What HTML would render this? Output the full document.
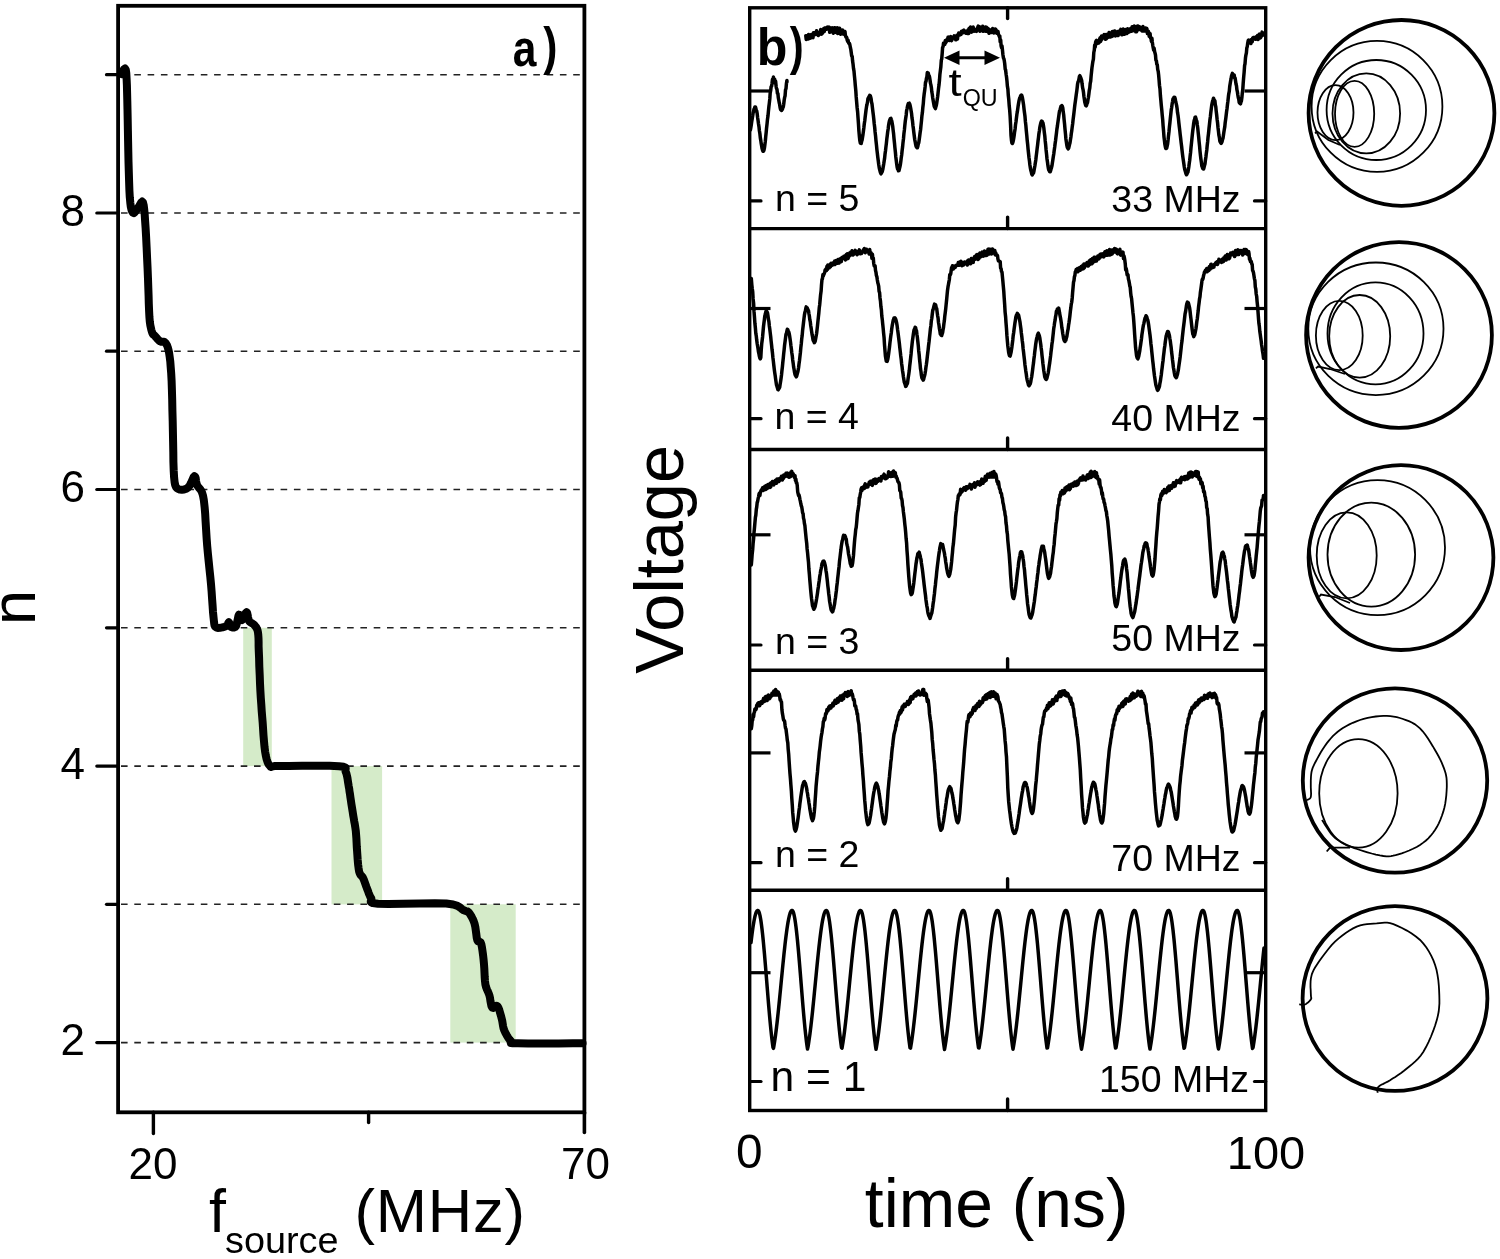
<!DOCTYPE html>
<html><head><meta charset="utf-8"><style>
html,body{margin:0;padding:0;background:#fff;width:1500px;height:1259px;overflow:hidden;font-family:"Liberation Sans",sans-serif;}
svg{display:block;will-change:transform}
</style></head><body>
<svg width="1500" height="1259" viewBox="0 0 1500 1259"><rect x="243.2" y="627.8" width="28.6" height="138.3" fill="#d5ebc9"/>
<rect x="331.5" y="766.1" width="50.6" height="138.3" fill="#d5ebc9"/>
<rect x="450.3" y="904.3" width="65.4" height="138.3" fill="#d5ebc9"/>
<line x1="120" y1="1042.6" x2="582.6" y2="1042.6" stroke="#222" stroke-width="1.6" stroke-dasharray="6.6 6.7" stroke-dashoffset="-1"/>
<line x1="120" y1="904.3" x2="582.6" y2="904.3" stroke="#222" stroke-width="1.6" stroke-dasharray="6.6 6.7" stroke-dashoffset="-1"/>
<line x1="120" y1="766.1" x2="582.6" y2="766.1" stroke="#222" stroke-width="1.6" stroke-dasharray="6.6 6.7" stroke-dashoffset="-1"/>
<line x1="120" y1="627.8" x2="582.6" y2="627.8" stroke="#222" stroke-width="1.6" stroke-dasharray="6.6 6.7" stroke-dashoffset="-1"/>
<line x1="120" y1="489.5" x2="582.6" y2="489.5" stroke="#222" stroke-width="1.6" stroke-dasharray="6.6 6.7" stroke-dashoffset="-1"/>
<line x1="120" y1="351.2" x2="582.6" y2="351.2" stroke="#222" stroke-width="1.6" stroke-dasharray="6.6 6.7" stroke-dashoffset="-1"/>
<line x1="120" y1="213" x2="582.6" y2="213" stroke="#222" stroke-width="1.6" stroke-dasharray="6.6 6.7" stroke-dashoffset="-1"/>
<line x1="120" y1="74.7" x2="582.6" y2="74.7" stroke="#222" stroke-width="1.6" stroke-dasharray="6.6 6.7" stroke-dashoffset="-1"/>
<path d="M121.4,74.1 L122,73 L123,71 L124,69.2 L125,68.5 L125.8,69.8 L126.3,73.4 L126.6,78.7 L126.9,85.3 L127.1,92.8 L127.3,100.8 L127.5,109.8 L127.7,120 L127.9,130.8 L128.1,141.5 L128.3,151.7 L128.5,161.7 L128.8,171.8 L129.1,181.6 L129.4,190.3 L129.8,197.4 L130.3,202.7 L130.8,206.7 L131.4,209.5 L132.1,211.4 L132.9,212.7 L133.8,213.1 L134.8,212.3 L135.9,210.9 L137,209.3 L138,208 L139,206.5 L140.1,204.4 L141.2,202.5 L142.2,201.6 L143,202.5 L143.7,205.2 L144.2,209.3 L144.7,214.5 L145.1,220.8 L145.6,228 L146.1,236.7 L146.6,247.1 L147.1,258.2 L147.6,269 L148,278.8 L148.3,287.6 L148.6,296.1 L148.8,303.9 L149.1,311 L149.4,316.9 L149.8,321.6 L150.3,325.1 L150.9,327.9 L151.4,330.1 L152,332 L152.5,333.5 L153.1,334.3 L153.6,334.8 L154.3,335.3 L155,336 L155.9,337.1 L156.9,338.3 L158,339.5 L159.1,340.6 L160.2,341.4 L161.2,341.8 L162.3,341.8 L163.4,341.7 L164.4,341.9 L165.3,342.7 L166.2,343.9 L167,345.3 L167.7,347.1 L168.4,349.6 L169.1,352.9 L169.7,357 L170.3,361.7 L170.7,367.1 L171.2,373.5 L171.6,380.8 L171.9,389.6 L172.2,399.8 L172.4,410.6 L172.7,421.5 L172.9,431.7 L173.1,441.7 L173.3,452 L173.4,461.8 L173.7,470.5 L174.1,477.4 L174.6,482.1 L175.2,485.1 L175.9,486.9 L176.8,488 L178,488.9 L179.7,489.6 L181.8,489.8 L184,489.5 L186.2,488.7 L188.1,487.6 L189.7,485.6 L191.1,482.8 L192.4,479.8 L193.5,477.3 L194.5,476.2 L195.2,476.7 L195.7,478.3 L196,480.6 L196.4,483 L197,485 L197.9,486.5 L199,487.8 L200.1,489.1 L201.2,490.7 L202.1,492.7 L202.8,494.9 L203.3,497.2 L203.8,499.9 L204.2,503.4 L204.7,508 L205.2,514.1 L205.6,521.6 L206.1,529.7 L206.6,538 L207.2,546 L207.9,553.7 L208.7,561.5 L209.5,569.3 L210.3,576.9 L211,584.2 L211.6,591.5 L212.1,598.9 L212.6,605.9 L213,612.1 L213.5,617.2 L213.9,620.9 L214.2,623.5 L214.5,625.2 L215.1,626.5 L216.1,627.4 L217.8,627.9 L220,627.8 L222.4,627.4 L224.6,626.7 L226.3,626.1 L227.3,625.4 L227.9,624.4 L228.2,623.3 L228.4,622.6 L228.8,622.3 L229.2,622.8 L229.6,623.8 L229.9,625.1 L230.4,626.3 L231,627 L231.9,627.3 L232.9,627.5 L234,627.4 L235.1,627 L236,626 L236.7,624.1 L237.3,621.4 L237.9,618.5 L238.4,616.1 L239,614.7 L239.6,614.9 L240.1,616.3 L240.7,618 L241.3,619.5 L242,620 L242.9,619 L243.8,617 L244.8,614.8 L245.8,612.9 L246.6,612.2 L247.2,613 L247.6,614.8 L248,617 L248.5,619.3 L249.1,621 L250,622 L251,622.7 L252.1,623.3 L253.2,624 L254.2,624.9 L255.1,626 L256,627.1 L256.8,628.5 L257.5,630.2 L258,632.5 L258.3,635.2 L258.5,638.3 L258.6,641.9 L258.6,646.2 L258.8,651.5 L259.1,658.2 L259.3,666.3 L259.7,674.9 L260,683.4 L260.4,691.2 L260.8,698.1 L261.3,704.6 L261.7,710.9 L262.2,717 L262.7,723 L263.1,729.2 L263.5,735.4 L264,741.3 L264.5,746.8 L265.1,751.6 L265.8,755.6 L266.6,759 L267.5,761.9 L268.6,764.2 L269.9,765.9 L270.7,766.8 L271,766.9 L271.8,766.6 L274.2,766.1 L279.4,765.9 L288.9,765.9 L302.1,765.8 L316.5,765.7 L329.6,765.8 L338.9,766.2 L343.7,766.8 L345.6,767.7 L345.7,768.7 L345.4,770 L345.6,771.6 L346.4,773.6 L347,775.9 L347.5,778.4 L347.9,781.1 L348.3,783.7 L348.7,786.2 L349.2,788.8 L349.5,791.4 L350,794.2 L350.4,797.2 L350.9,800.5 L351.4,804 L352,807.7 L352.6,811.3 L353.1,814.8 L353.7,818.1 L354.2,821.2 L354.8,824.3 L355.3,827.5 L355.8,831 L356.1,834.8 L356.4,838.8 L356.6,842.9 L356.8,847.1 L357.1,851.2 L357.4,855.5 L357.7,860 L358.1,864.4 L358.6,868.3 L359.1,871.5 L359.8,873.6 L360.6,875 L361.5,875.9 L362.4,876.8 L363.2,878.2 L364,880.1 L364.8,882.3 L365.6,884.6 L366.4,886.9 L367.2,889 L368,891 L368.7,893.1 L369.5,895 L370.3,896.8 L371.3,898.4 L371.5,899.8 L370.8,901.1 L370.8,902.2 L372.7,903.1 L378,903.8 L388.5,904 L403.3,903.7 L419.6,903.4 L434.8,903.2 L446.2,903.5 L453.2,904.5 L457.5,905.9 L460.1,907.5 L461.9,909.1 L463.8,910.3 L465.7,911 L466.8,911.3 L467.6,911.5 L468.3,912 L469.2,913 L470.3,914.6 L471.5,916.5 L472.6,918.7 L473.7,921.2 L474.6,923.8 L475.3,926.9 L475.8,930.5 L476.3,934.1 L476.7,937.5 L477.3,940 L478,941.3 L478.9,941.7 L479.7,941.8 L480.6,942.4 L481.3,944 L481.9,947 L482.5,951 L483.1,955.4 L483.6,960 L484,964.3 L484.3,968.5 L484.5,972.8 L484.7,977.1 L485,981.1 L485.4,984.5 L486.1,987.2 L486.9,989.4 L487.8,991.3 L488.6,993.2 L489.4,995.3 L490,997.9 L490.4,1000.7 L490.9,1003.5 L491.4,1005.9 L492.1,1007.5 L493,1007.9 L494.1,1007.3 L495.3,1006.3 L496.5,1005.7 L497.5,1006.1 L498.4,1007.7 L499.3,1010 L500.1,1012.8 L500.9,1015.6 L501.6,1018.3 L502.2,1020.7 L502.6,1023.2 L503,1025.7 L503.5,1028.1 L504.3,1030.4 L505.4,1032.8 L506.7,1035.2 L508.1,1037.6 L509.6,1039.6 L511,1041.2 L511.4,1042.2 L510.9,1042.8 L510.9,1043 L512.7,1043.2 L517.8,1043.3 L528.1,1043.4 L542.7,1043.5 L558.6,1043.4 L572.9,1043.3 L582.6,1043.3" fill="none" stroke="#000" stroke-width="8" stroke-linejoin="round" stroke-linecap="round"/>
<rect x="118.1" y="5.8" width="466.3" height="1106.5" fill="none" stroke="#000" stroke-width="3.8"/>
<line x1="96.8" y1="1042.6" x2="118.1" y2="1042.6" stroke="#000" stroke-width="3.2" stroke-linecap="round"/>
<line x1="106.5" y1="904.3" x2="118.1" y2="904.3" stroke="#000" stroke-width="3.2" stroke-linecap="round"/>
<line x1="96.8" y1="766.1" x2="118.1" y2="766.1" stroke="#000" stroke-width="3.2" stroke-linecap="round"/>
<line x1="106.5" y1="627.8" x2="118.1" y2="627.8" stroke="#000" stroke-width="3.2" stroke-linecap="round"/>
<line x1="96.8" y1="489.5" x2="118.1" y2="489.5" stroke="#000" stroke-width="3.2" stroke-linecap="round"/>
<line x1="106.5" y1="351.2" x2="118.1" y2="351.2" stroke="#000" stroke-width="3.2" stroke-linecap="round"/>
<line x1="96.8" y1="213" x2="118.1" y2="213" stroke="#000" stroke-width="3.2" stroke-linecap="round"/>
<line x1="106.5" y1="74.7" x2="118.1" y2="74.7" stroke="#000" stroke-width="3.2" stroke-linecap="round"/>
<line x1="153.4" y1="1112.3" x2="153.4" y2="1133.5" stroke="#000" stroke-width="3.4" stroke-linecap="round"/>
<line x1="368.6" y1="1112.3" x2="368.6" y2="1122.5" stroke="#000" stroke-width="3.4" stroke-linecap="round"/>
<line x1="584.4" y1="1112.3" x2="584.4" y2="1132.5" stroke="#000" stroke-width="3.6" stroke-linecap="round"/>
<text x="85" y="1055.2" font-family="Liberation Sans, sans-serif" font-size="44" text-anchor="end">2</text>
<text x="85" y="778.7" font-family="Liberation Sans, sans-serif" font-size="44" text-anchor="end">4</text>
<text x="85" y="502.1" font-family="Liberation Sans, sans-serif" font-size="44" text-anchor="end">6</text>
<text x="85" y="225.6" font-family="Liberation Sans, sans-serif" font-size="44" text-anchor="end">8</text>
<text x="153" y="1178.8" font-family="Liberation Sans, sans-serif" font-size="44" text-anchor="middle">20</text>
<text x="585.5" y="1178.8" font-family="Liberation Sans, sans-serif" font-size="44" text-anchor="middle">70</text>
<text transform="translate(35.3,607.5) rotate(-90)" font-family="Liberation Sans, sans-serif" font-size="63" text-anchor="middle">n</text>
<text x="209" y="1232.2" font-family="Liberation Sans, sans-serif" font-size="61">f</text>
<text x="225" y="1253.4" font-family="Liberation Sans, sans-serif" font-size="37.8">source</text>
<text x="354.5" y="1231.6" font-family="Liberation Sans, sans-serif" font-size="61.5" letter-spacing="0.8">(MHz)</text>
<text transform="translate(512.8,65.5) scale(0.833,1)" font-family="Liberation Sans, sans-serif" font-size="51.1" font-weight="bold">a</text>
<text transform="translate(543.3,63.8) scale(0.815,1)" font-family="Liberation Sans, sans-serif" font-size="52.2" font-weight="bold">)</text>
<path d="M750.4,130 L750.9,127.2 L751.3,124.7 L751.8,121.1 L752.2,118.8 L752.7,115.8 L753.1,112.9 L753.6,111.4 L754,109 L754.5,108.4 L754.9,106.9 L755.4,106.9 L755.8,108 L756.3,110.6 L756.7,110.9 L757.2,113.8 L757.6,117.4 L758.1,120.7 L758.5,123.7 L759,126.9 L759.4,130.8 L759.9,133.7 L760.3,137.6 L760.8,140.6 L761.2,143.4 L761.7,146.3 L762.1,148.6 L762.6,150.4 L763,151.3 L763.5,151.1 L763.9,150.4 L764.4,148.2 L764.8,145.3 L765.3,141.4 L765.7,136.8 L766.2,132.1 L766.6,127.7 L767.1,123.4 L767.5,119.2 L768,115.8 L768.4,111.3 L768.9,106.5 L769.3,103.4 L769.8,98.9 L770.2,92.9 L770.7,90.5 L771.1,86.8 L771.6,86.3 L772,83.5 L772.5,79.2 L772.9,83.1 L773.4,77.1 L773.8,79.3 L774.3,82.2 L774.7,79.3 L775.2,82.6 L775.6,81.2 L776.1,86.2 L776.5,88.5 L777,89.4 L777.4,93.3 L777.9,93.5 L778.3,97.7 L778.8,100.1 L779.2,102.5 L779.7,104.7 L780.1,107.6 L780.6,109.6 L781,109.5 L781.5,110.5 L781.9,108.9 L782.4,109.3 L782.8,107.8 L783.3,106.7 L783.7,104.2 L784.2,100 L784.6,97.6 L785.1,95.7 L785.5,89.8 L786,88.6 L786.4,83.8 L786.9,80.4 L787,81.8" fill="none" stroke="#000" stroke-width="3.5" stroke-linejoin="round" stroke-linecap="round"/>
<path d="M805.8,35.7 L806.2,39.4 L806.7,35.7 L807.2,36.1 L807.6,36.7 L808.1,39.1 L808.5,34.6 L809,36.4 L809.4,36.8 L809.9,38.4 L810.3,37.9 L810.8,38 L811.2,34.5 L811.7,35 L812.1,34.5 L812.6,37.3 L813,37.6 L813.5,32.8 L813.9,32.7 L814.4,32.9 L814.8,32.7 L815.3,34 L815.7,34.4 L816.2,32.4 L816.6,30.7 L817.1,32.9 L817.5,32.5 L818,33.4 L818.4,35.6 L818.9,33.8 L819.3,32.6 L819.8,33.1 L820.2,33.2 L820.7,29.4 L821.1,34.2 L821.6,33.4 L822,33.8 L822.5,33.1 L822.9,30.6 L823.4,30.5 L823.8,28.5 L824.3,31.6 L824.7,28 L825.2,27.9 L825.6,28.7 L826.1,28.3 L826.5,29.3 L827,27.5 L827.4,27.1 L827.9,28 L828.3,27.6 L828.8,29.2 L829.2,27.1 L829.7,32.3 L830.1,30.7 L830.6,27.9 L831,28.5 L831.5,29.1 L831.9,29.2 L832.4,27.8 L832.8,32.3 L833.3,33.2 L833.7,30 L834.2,30.1 L834.6,27.7 L835.1,27.9 L835.5,29.4 L836,29 L836.4,32.5 L836.9,28.5 L837.3,27.8 L837.8,33.5 L838.2,31 L838.7,28.8 L839.1,31.3 L839.6,28.3 L840,31.4 L840.5,34.2 L840.9,33.6 L841.4,32.8 L841.8,30.3 L842.3,31.1 L842.7,30.1 L843.2,33.9 L843.6,32.6 L844.1,34.3 L844.5,31.9 L845,31.6 L845.4,35.4 L845.9,37 L846.3,36.9 L846.8,37.9 L847.2,40.1 L847.7,41.4 L848.1,40.2 L848.6,43 L849,43.6 L849.5,43.5 L849.9,45 L850.4,47.7 L850.8,49.3 L851.3,53.1 L851.7,56.1 L852.2,56.3 L852.6,61.1 L853.1,64.6 L853.5,68.4 L854,71.1 L854.4,75.7 L854.9,80.6 L855.3,85.5 L855.8,90.7 L856.2,96.9 L856.7,102.6 L857.1,107.5 L857.6,111.7 L858,117.4 L858.5,124.4 L858.9,130.8 L859.4,136.6 L859.8,140.4 L860.3,142.8 L860.7,143.3 L861.2,143.5 L861.6,141.6 L862.1,140 L862.5,137.4 L863,134.4 L863.4,131.2 L863.9,127.4 L864.3,123.7 L864.8,120.5 L865.2,116.7 L865.7,112.8 L866.1,109.5 L866.6,106.2 L867,104.5 L867.5,102.1 L867.9,98.9 L868.4,97.9 L868.8,97.3 L869.3,96.3 L869.7,95.3 L870.2,95.5 L870.6,96.8 L871.1,98.6 L871.5,102 L872,104 L872.4,107.5 L872.9,111.7 L873.3,114.8 L873.8,119.2 L874.2,123.5 L874.7,127.5 L875.1,132 L875.6,136.4 L876,140.8 L876.5,145.4 L876.9,149.6 L877.4,153.8 L877.8,157.2 L878.3,161.1 L878.7,164.3 L879.2,167.5 L879.6,169.3 L880.1,171.2 L880.5,172.7 L881,173.9 L881.4,172.9 L881.9,172.2 L882.3,171.4 L882.8,169.4 L883.2,166.9 L883.7,164.1 L884.1,161.4 L884.6,158.3 L885,154.3 L885.5,150.7 L885.9,147.1 L886.4,143.1 L886.8,139.1 L887.3,135.3 L887.7,131.8 L888.2,128.8 L888.6,125.2 L889.1,122.4 L889.5,120.7 L890,119.4 L890.4,118.5 L890.9,118.3 L891.3,119.6 L891.8,121 L892.2,123.3 L892.7,126.3 L893.1,129.9 L893.6,133.8 L894,138.5 L894.5,143.2 L894.9,147.7 L895.4,152.3 L895.8,156.9 L896.3,160.8 L896.7,164 L897.2,167.4 L897.6,169 L898.1,169.7 L898.5,170.8 L899,170.5 L899.4,168.8 L899.9,166.8 L900.3,164.9 L900.8,161.6 L901.2,158 L901.7,154.7 L902.1,150.8 L902.6,146.8 L903,142.6 L903.5,138.5 L903.9,133.8 L904.4,129.9 L904.8,125.6 L905.3,121 L905.7,118.2 L906.2,114.9 L906.6,110.6 L907.1,108.6 L907.5,106.2 L908,104.5 L908.4,103.5 L908.9,103.4 L909.3,103.2 L909.8,104.2 L910.2,105.8 L910.7,108.3 L911.1,110.8 L911.6,113.8 L912,117.9 L912.5,121 L912.9,125.2 L913.4,128.8 L913.8,132.3 L914.3,136.2 L914.7,139.3 L915.2,141.8 L915.6,144.2 L916.1,146.5 L916.5,147 L917,147.7 L917.4,147.8 L917.9,146 L918.3,144 L918.8,142.6 L919.2,139.7 L919.7,136.1 L920.1,132.7 L920.6,129.5 L921,125.4 L921.5,120.6 L921.9,116.1 L922.4,112.6 L922.8,107.8 L923.3,103.6 L923.7,98.2 L924.2,93.7 L924.6,91.1 L925.1,86.9 L925.5,82.3 L926,81.4 L926.4,78.5 L926.9,76.8 L927.3,72.6 L927.8,75 L928.2,72.9 L928.7,75.3 L929.1,75.6 L929.6,77.3 L930,79.8 L930.5,83.4 L930.9,84.9 L931.4,87.7 L931.8,91.8 L932.3,94.5 L932.7,97.7 L933.2,100.6 L933.6,103 L934.1,105.8 L934.5,106.9 L935,107.7 L935.4,108.6 L935.9,106.6 L936.3,105.4 L936.8,102.6 L937.2,99.8 L937.7,96.2 L938.1,92.5 L938.6,87.9 L939,85.1 L939.5,80 L939.9,74.4 L940.4,70.4 L940.8,67.3 L941.3,60.3 L941.7,59 L942.2,53.4 L942.6,47.4 L943.1,46.6 L943.5,43.2 L944,43 L944.4,43.2 L944.9,44.3 L945.3,40.5 L945.8,42.6 L946.2,41.7 L946.7,41.1 L947.1,39.6 L947.6,39.1 L948,37.4 L948.5,37.6 L948.9,37.1 L949.4,40.6 L949.8,37.9 L950.3,37.2 L950.7,36.7 L951.2,40.6 L951.6,40.7 L952.1,39.5 L952.5,37.2 L953,36.9 L953.4,37 L953.9,37.8 L954.3,35.9 L954.8,37.3 L955.2,36.2 L955.7,39.8 L956.1,39.7 L956.6,37.1 L957,35.2 L957.5,39 L957.9,35.1 L958.4,35.1 L958.8,32.9 L959.3,34.8 L959.7,35 L960.2,34.9 L960.6,33 L961.1,34.4 L961.5,31.3 L962,32.5 L962.4,31.3 L962.9,32.8 L963.3,30.5 L963.8,30.1 L964.2,31.5 L964.7,30.8 L965.1,32.7 L965.6,32.1 L966,33.2 L966.5,32.5 L966.9,32.6 L967.4,33.4 L967.8,30.2 L968.3,29.7 L968.7,33.5 L969.2,28.2 L969.6,31.6 L970.1,30.9 L970.5,27 L971,31.8 L971.4,32.1 L971.9,30.3 L972.3,30.9 L972.8,31.3 L973.2,27 L973.7,29.3 L974.1,29.1 L974.6,31.1 L975,30.9 L975.5,31 L975.9,29.5 L976.4,31.4 L976.8,30.1 L977.3,30.1 L977.7,27.3 L978.2,26.1 L978.6,26.7 L979.1,28.2 L979.5,26.6 L980,31.2 L980.4,29.5 L980.9,29.9 L981.3,30 L981.8,30.4 L982.2,29.2 L982.7,26.3 L983.1,31.3 L983.6,31 L984,29.6 L984.5,29.8 L984.9,30.6 L985.4,27 L985.8,31.3 L986.3,28.4 L986.7,27.4 L987.2,28.6 L987.6,31.5 L988.1,28.4 L988.5,31.8 L989,33.3 L989.4,30.4 L989.9,29.9 L990.3,30.5 L990.8,31.9 L991.2,32.5 L991.7,31.7 L992.1,31.9 L992.6,28.6 L993,29.1 L993.5,29.9 L993.9,32.9 L994.4,30.4 L994.8,32.1 L995.3,28.9 L995.7,29.3 L996.2,30.7 L996.6,33.2 L997.1,33.4 L997.5,33.5 L998,31.5 L998.4,34.2 L998.9,35.3 L999.3,36.6 L999.8,36.1 L1000.2,41.8 L1000.7,40 L1001.1,45.9 L1001.6,47.8 L1002,45.9 L1002.5,50.4 L1002.9,54.5 L1003.4,57.8 L1003.8,58.5 L1004.3,60.7 L1004.7,63.5 L1005.2,69.1 L1005.6,69.9 L1006.1,74.3 L1006.5,76.7 L1007,81.4 L1007.4,86.3 L1007.9,89.1 L1008.3,95.3 L1008.8,99.8 L1009.2,105.5 L1009.7,110.4 L1010.1,115.8 L1010.6,125.5 L1011,135.3 L1011.5,140.5 L1011.9,142.9 L1012.4,143.4 L1012.8,142.7 L1013.3,140.6 L1013.7,138.5 L1014.2,135.3 L1014.6,131.9 L1015.1,129 L1015.5,124.8 L1016,121.8 L1016.4,118.3 L1016.9,114.2 L1017.3,111.9 L1017.8,108.5 L1018.2,105.6 L1018.7,102.5 L1019.1,100.4 L1019.6,98.3 L1020,97.4 L1020.5,96.2 L1020.9,95.4 L1021.4,95.1 L1021.8,95.5 L1022.3,97.2 L1022.7,99.3 L1023.2,102.5 L1023.6,105.1 L1024.1,109.7 L1024.5,112.8 L1025,116.6 L1025.4,121.5 L1025.9,125.9 L1026.3,130.7 L1026.8,135.7 L1027.2,140.3 L1027.7,144.8 L1028.1,149.3 L1028.6,154 L1029,157.7 L1029.5,161.2 L1029.9,165 L1030.4,168.1 L1030.8,170.3 L1031.3,172 L1031.7,174 L1032.2,174.9 L1032.6,174.1 L1033.1,173.3 L1033.5,173 L1034,170.8 L1034.4,168.4 L1034.9,165.7 L1035.3,163.1 L1035.8,159.9 L1036.2,156.4 L1036.7,152.4 L1037.1,148.9 L1037.6,145 L1038,141.3 L1038.5,137.4 L1038.9,133.8 L1039.4,130.7 L1039.8,127.7 L1040.3,125.1 L1040.7,123.4 L1041.2,121.9 L1041.6,121.1 L1042.1,121.3 L1042.5,122.1 L1043,123 L1043.4,125.2 L1043.9,128.6 L1044.3,132.2 L1044.8,136 L1045.2,140.7 L1045.7,145.3 L1046.1,150 L1046.6,154.6 L1047,159 L1047.5,162.2 L1047.9,165.4 L1048.4,168.5 L1048.8,170 L1049.3,170.8 L1049.7,171.6 L1050.2,171.8 L1050.6,170.7 L1051.1,168.8 L1051.5,167.6 L1052,165.5 L1052.4,162.8 L1052.9,159.6 L1053.3,156.8 L1053.8,153.8 L1054.2,150.4 L1054.7,147 L1055.1,143.7 L1055.6,140.2 L1056,136.7 L1056.5,132.7 L1056.9,129.1 L1057.4,126.1 L1057.8,122.9 L1058.3,119.6 L1058.7,116.7 L1059.2,113.1 L1059.6,110.7 L1060.1,109.7 L1060.5,107.9 L1061,106.3 L1061.4,105.9 L1061.9,105.6 L1062.3,106.2 L1062.8,107.9 L1063.2,111.6 L1063.7,115 L1064.1,119.7 L1064.6,124.4 L1065,129.2 L1065.5,134.2 L1065.9,138.9 L1066.4,142.2 L1066.8,145.1 L1067.3,147.5 L1067.7,147.9 L1068.2,148.9 L1068.6,148.3 L1069.1,146.3 L1069.5,144.5 L1070,142.7 L1070.4,140.1 L1070.9,137 L1071.3,133.5 L1071.8,130.4 L1072.2,127.1 L1072.7,123.5 L1073.1,119.6 L1073.6,115.7 L1074,112.4 L1074.5,107.9 L1074.9,104.5 L1075.4,101 L1075.8,98.1 L1076.3,94.3 L1076.7,91.6 L1077.2,87.5 L1077.6,83.8 L1078.1,81.7 L1078.5,81.4 L1079,78.7 L1079.4,76.5 L1079.9,75.7 L1080.3,76.9 L1080.8,77.9 L1081.2,79.1 L1081.7,80.6 L1082.1,84.1 L1082.6,87.7 L1083,89.3 L1083.5,92.4 L1083.9,96.3 L1084.4,99.4 L1084.8,102.3 L1085.3,104 L1085.7,105.4 L1086.2,105.8 L1086.6,105.1 L1087.1,103.2 L1087.5,102.8 L1088,99.4 L1088.4,97.5 L1088.9,93.7 L1089.3,90.3 L1089.8,87.9 L1090.2,83.4 L1090.7,81.1 L1091.1,76.1 L1091.6,71.3 L1092,67.4 L1092.5,64.1 L1092.9,61.3 L1093.4,59.1 L1093.8,52.5 L1094.3,50.2 L1094.7,44.9 L1095.2,47 L1095.6,42.1 L1096.1,40.9 L1096.5,40.4 L1097,41.5 L1097.4,43.6 L1097.9,43.1 L1098.3,42 L1098.8,43 L1099.2,42.3 L1099.7,38.8 L1100.1,37.8 L1100.6,41.5 L1101,40.2 L1101.5,36.1 L1101.9,39.3 L1102.4,37.5 L1102.8,37.2 L1103.3,36.8 L1103.7,35.7 L1104.2,34.5 L1104.6,35.9 L1105.1,36 L1105.5,39.2 L1106,34.4 L1106.4,38.9 L1106.9,34.4 L1107.3,35.1 L1107.8,37.5 L1108.2,37.3 L1108.7,35 L1109.1,32.6 L1109.6,34.9 L1110,34.1 L1110.5,37.1 L1110.9,32.8 L1111.4,33.7 L1111.8,36.6 L1112.3,31.5 L1112.7,33.6 L1113.2,35.8 L1113.6,35.4 L1114.1,31.1 L1114.5,31 L1115,31 L1115.4,35.9 L1115.9,32 L1116.3,34.7 L1116.8,35.5 L1117.2,32.1 L1117.7,31.7 L1118.1,35.6 L1118.6,33.5 L1119,31.3 L1119.5,33.9 L1119.9,31.5 L1120.4,31.1 L1120.8,29.4 L1121.3,33.8 L1121.7,34.6 L1122.2,32.9 L1122.6,34.6 L1123.1,29 L1123.5,30.1 L1124,31.5 L1124.4,34.2 L1124.9,34.1 L1125.3,30.6 L1125.8,29.6 L1126.2,30.6 L1126.7,30.8 L1127.1,33.4 L1127.6,28.7 L1128,32.4 L1128.5,31.8 L1128.9,32.2 L1129.4,31.8 L1129.8,30.7 L1130.3,28.8 L1130.7,28.7 L1131.2,28.8 L1131.6,31.3 L1132.1,26.8 L1132.5,27.5 L1133,30.8 L1133.4,27.6 L1133.9,26.3 L1134.3,26 L1134.8,29.2 L1135.2,27.7 L1135.7,31.7 L1136.1,31 L1136.6,31.6 L1137,27 L1137.5,25.9 L1137.9,25.9 L1138.4,28.4 L1138.8,29.7 L1139.3,28.1 L1139.7,26.8 L1140.2,27.9 L1140.6,29.3 L1141.1,29.6 L1141.5,30.2 L1142,30.9 L1142.4,29.8 L1142.9,26.5 L1143.3,31.1 L1143.8,27.8 L1144.2,29.7 L1144.7,28.7 L1145.1,31.1 L1145.6,28 L1146,28.6 L1146.5,28.9 L1146.9,28.7 L1147.4,33.5 L1147.8,32.1 L1148.3,31.2 L1148.7,32.2 L1149.2,36.3 L1149.6,34.3 L1150.1,33.6 L1150.5,37.8 L1151,38.2 L1151.4,41.4 L1151.9,38.2 L1152.3,41.9 L1152.8,45.5 L1153.2,47.6 L1153.7,50.1 L1154.1,48.3 L1154.6,51.6 L1155,52.9 L1155.5,55.2 L1155.9,60.2 L1156.4,60.8 L1156.8,64.3 L1157.3,64.8 L1157.7,69.3 L1158.2,71.3 L1158.6,74.6 L1159.1,80.3 L1159.5,85.5 L1160,89.1 L1160.4,95.5 L1160.9,100.9 L1161.3,105.5 L1161.8,110.3 L1162.2,114.8 L1162.7,119.9 L1163.1,125.8 L1163.6,131.7 L1164,137.1 L1164.5,141.1 L1164.9,144.5 L1165.4,147.1 L1165.8,148.5 L1166.3,148.6 L1166.7,148 L1167.2,145.8 L1167.6,144.1 L1168.1,139.9 L1168.5,135.7 L1169,131.5 L1169.4,127.2 L1169.9,122.8 L1170.3,118.6 L1170.8,114 L1171.2,110.1 L1171.7,107.2 L1172.1,104.1 L1172.6,101.3 L1173,98.7 L1173.5,99.1 L1173.9,97.4 L1174.4,97.2 L1174.8,97.4 L1175.3,99.3 L1175.7,101.7 L1176.2,103.7 L1176.6,105.4 L1177.1,108.5 L1177.5,112.4 L1178,115.2 L1178.4,118.4 L1178.9,123.2 L1179.3,126.7 L1179.8,130.9 L1180.2,134.6 L1180.7,138.8 L1181.1,142.4 L1181.6,146.2 L1182,150 L1182.5,154.2 L1182.9,157.4 L1183.4,160.8 L1183.8,163.5 L1184.3,167 L1184.7,169.2 L1185.2,170.9 L1185.6,172.4 L1186.1,174.1 L1186.5,174.7 L1187,174.1 L1187.4,172.8 L1187.9,172.2 L1188.3,169.9 L1188.8,167 L1189.2,163.7 L1189.7,160.3 L1190.1,156.4 L1190.6,152.2 L1191,147.7 L1191.5,142.9 L1191.9,138.9 L1192.4,134 L1192.8,130.5 L1193.3,126.7 L1193.7,123.2 L1194.2,120.3 L1194.6,119.3 L1195.1,117.2 L1195.5,117.1 L1196,118.7 L1196.4,120 L1196.9,121.5 L1197.3,125 L1197.8,128.6 L1198.2,132.7 L1198.7,137.2 L1199.1,141.7 L1199.6,146.4 L1200,151.1 L1200.5,155.8 L1200.9,159 L1201.4,162.5 L1201.8,165.8 L1202.3,167.1 L1202.7,168.4 L1203.2,169 L1203.6,169 L1204.1,167.2 L1204.5,165.5 L1205,163.7 L1205.4,160.3 L1205.9,157 L1206.3,153.4 L1206.8,149.9 L1207.2,145.5 L1207.7,141.2 L1208.1,136.7 L1208.6,132.8 L1209,128.5 L1209.5,124 L1209.9,120.1 L1210.4,116.4 L1210.8,112.5 L1211.3,108.6 L1211.7,105.4 L1212.2,102.9 L1212.6,101 L1213.1,99.5 L1213.5,98.2 L1214,99.5 L1214.4,100.2 L1214.9,100.8 L1215.3,104.6 L1215.8,106.9 L1216.2,111.1 L1216.7,115.3 L1217.1,119.2 L1217.6,123 L1218,127.5 L1218.5,131.6 L1218.9,135.2 L1219.4,137.6 L1219.8,140.8 L1220.3,142.1 L1220.7,142.7 L1221.2,143.4 L1221.6,142.7 L1222.1,141.5 L1222.5,139.6 L1223,138.2 L1223.4,135.6 L1223.9,132.1 L1224.3,129.5 L1224.8,126.6 L1225.2,122.5 L1225.7,119.1 L1226.1,115.8 L1226.6,111.5 L1227,108.8 L1227.5,104.3 L1227.9,101.3 L1228.4,96.6 L1228.8,93.6 L1229.3,91.2 L1229.7,86.6 L1230.2,83.5 L1230.6,81.1 L1231.1,78.7 L1231.5,76.1 L1232,74.5 L1232.4,73.4 L1232.9,75.5 L1233.3,74.8 L1233.8,75.4 L1234.2,75 L1234.7,78.2 L1235.1,78 L1235.6,81.3 L1236,84 L1236.5,85.9 L1236.9,89.7 L1237.4,91.8 L1237.8,94.7 L1238.3,97.7 L1238.7,98.8 L1239.2,102.4 L1239.6,102.9 L1240.1,103.4 L1240.5,103.8 L1241,101.8 L1241.4,101.1 L1241.9,97.3 L1242.3,93.2 L1242.8,89.3 L1243.2,83.2 L1243.7,76.8 L1244.1,72.6 L1244.6,65.5 L1245,63.8 L1245.5,57.7 L1245.9,55.1 L1246.4,52.8 L1246.8,48.1 L1247.3,46.4 L1247.7,43.2 L1248.2,40.5 L1248.6,40.1 L1249.1,40.3 L1249.5,42.4 L1250,41.4 L1250.4,41.7 L1250.9,43.5 L1251.3,39.5 L1251.8,39.7 L1252.2,41.7 L1252.7,38.1 L1253.1,37.7 L1253.6,39.2 L1254,37.6 L1254.5,38.6 L1254.9,37.6 L1255.4,39.3 L1255.8,39 L1256.3,36.7 L1256.7,38.7 L1257.2,37.6 L1257.6,35.5 L1258.1,39.6 L1258.5,35.5 L1259,34.7 L1259.4,34.1 L1259.9,36.9 L1260.3,37.9 L1260.8,37.2 L1261.2,34.8 L1261.7,33.8 L1262.1,32.1 L1262.6,35.4 L1263,34.7 L1263.5,33.2 L1263.9,34.7 L1264,33.8" fill="none" stroke="#000" stroke-width="3.5" stroke-linejoin="round" stroke-linecap="round"/>
<path d="M751.3,278.4 L751.8,284.6 L752.2,288.3 L752.7,291.7 L753.1,298.9 L753.6,303.2 L754,311.2 L754.5,317.6 L754.9,323.3 L755.4,328.2 L755.8,333.3 L756.3,336.2 L756.7,340.1 L757.2,343.7 L757.6,346 L758.1,349 L758.5,351.9 L759,354.2 L759.4,356.4 L759.9,358.2 L760.3,358.8 L760.8,357.6 L761.2,350.3 L761.7,343.9 L762.1,340.7 L762.6,336.7 L763,332 L763.5,326.5 L763.9,323.2 L764.4,319.5 L764.8,316 L765.3,314.3 L765.7,312.4 L766.2,310.9 L766.6,311.2 L767.1,311.9 L767.5,312.9 L768,316 L768.4,319.2 L768.9,321.7 L769.3,325.7 L769.8,329.3 L770.2,332.6 L770.7,336.8 L771.1,340.8 L771.6,345.3 L772,349.3 L772.5,353.3 L772.9,357.5 L773.4,361.6 L773.8,365.2 L774.3,369.5 L774.7,372.5 L775.2,375.8 L775.6,378.9 L776.1,382.3 L776.5,385 L777,386.4 L777.4,387.8 L777.9,389.6 L778.3,389.8 L778.8,388.8 L779.2,388.2 L779.7,387.2 L780.1,384.6 L780.6,381.5 L781,378.7 L781.5,375 L781.9,371 L782.4,366.7 L782.8,362.5 L783.3,357.9 L783.7,353.6 L784.2,349.1 L784.6,344.9 L785.1,341.3 L785.5,338.1 L786,334.3 L786.4,333.5 L786.9,331.1 L787.3,329.3 L787.8,329.7 L788.2,331.5 L788.7,331.8 L789.1,333.2 L789.6,335.8 L790,338.6 L790.5,341.9 L790.9,345.5 L791.4,349.2 L791.8,352.8 L792.3,356 L792.7,359.9 L793.2,363.4 L793.6,366.9 L794.1,369.5 L794.5,372.1 L795,374.3 L795.4,375.4 L795.9,376.1 L796.3,376.8 L796.8,375.7 L797.2,374.1 L797.7,372.3 L798.1,370.5 L798.6,367.5 L799,364 L799.5,360.5 L799.9,356.9 L800.4,352.5 L800.8,347.9 L801.3,343.5 L801.7,339.1 L802.2,335.3 L802.6,330.4 L803.1,326.2 L803.5,322.7 L804,318.4 L804.4,315.1 L804.9,312.4 L805.3,311.2 L805.8,308.5 L806.2,306.9 L806.7,308.5 L807.1,307.7 L807.6,308.7 L808,310 L808.5,310.8 L808.9,313.5 L809.4,316.2 L809.8,319.7 L810.3,321.9 L810.7,325.5 L811.2,328.4 L811.6,331.2 L812.1,334.7 L812.5,336.5 L813,339.8 L813.4,340.7 L813.9,341.5 L814.3,342.7 L814.8,342 L815.2,341.1 L815.7,338.4 L816.1,336.2 L816.6,333.5 L817,330.1 L817.5,325.6 L817.9,321.6 L818.4,316.9 L818.8,313.2 L819.3,307.4 L819.7,304.7 L820.2,299 L820.6,294.7 L821.1,291.1 L821.5,284.9 L822,279.3 L822.4,278.8 L822.9,274.6 L823.3,276 L823.8,274.4 L824.2,273.8 L824.7,272.2 L825.1,270.1 L825.6,269.6 L826,268.9 L826.5,270.6 L826.9,266.3 L827.4,269.6 L827.8,265 L828.3,265.4 L828.7,265.2 L829.2,267.9 L829.6,265.6 L830.1,264.7 L830.5,266.8 L831,263.3 L831.4,264.2 L831.9,264.3 L832.3,265.2 L832.8,265 L833.2,264.3 L833.7,262.5 L834.1,262.2 L834.6,261.2 L835,264.5 L835.5,263.4 L835.9,263.7 L836.4,260.5 L836.8,261.7 L837.3,263.3 L837.7,262.1 L838.2,259.5 L838.6,261 L839.1,263.1 L839.5,259.4 L840,258.9 L840.4,259.2 L840.9,261.1 L841.3,261.6 L841.8,257.6 L842.2,257.3 L842.7,257.5 L843.1,257.7 L843.6,258.5 L844,256.2 L844.5,256.8 L844.9,255.8 L845.4,259.9 L845.8,258.2 L846.3,254.4 L846.7,259.1 L847.2,253.8 L847.6,255.2 L848.1,258.4 L848.5,257.1 L849,256.5 L849.4,254.5 L849.9,252.8 L850.3,255.2 L850.8,251.9 L851.2,252.3 L851.7,253.2 L852.1,250.8 L852.6,252.9 L853,255.1 L853.5,254.4 L853.9,253 L854.4,253.7 L854.8,252.5 L855.3,250.4 L855.7,253.1 L856.2,251.8 L856.6,253.7 L857.1,254.7 L857.5,251.6 L858,252.4 L858.4,253.4 L858.9,251.2 L859.3,249.9 L859.8,252.9 L860.2,253.8 L860.7,253.1 L861.1,252.6 L861.6,253.4 L862,252.3 L862.5,252 L862.9,250.8 L863.4,249.8 L863.8,251.8 L864.3,248.4 L864.7,250.4 L865.2,252.7 L865.6,252.2 L866.1,251.7 L866.5,249.3 L867,250.5 L867.4,250.7 L867.9,251.8 L868.3,250.5 L868.8,252.2 L869.2,254 L869.7,249.5 L870.1,252.8 L870.6,254.2 L871,252.6 L871.5,254.3 L871.9,258.2 L872.4,254.2 L872.8,258.4 L873.3,258.1 L873.7,263.2 L874.2,265.9 L874.6,265.7 L875.1,265.9 L875.5,270.3 L876,272.4 L876.4,275.4 L876.9,276.8 L877.3,279.7 L877.8,282.7 L878.2,284 L878.7,286.4 L879.1,291.4 L879.6,292.7 L880,297.9 L880.5,301.3 L880.9,306.6 L881.4,309.9 L881.8,316.1 L882.3,319.7 L882.7,323.9 L883.2,328.6 L883.6,333.2 L884.1,337.9 L884.5,344.7 L885,350.9 L885.4,355.9 L885.9,359 L886.3,361.1 L886.8,361.3 L887.2,361.4 L887.7,359.6 L888.1,357.4 L888.6,354 L889,350.9 L889.5,347.1 L889.9,343.1 L890.4,339.1 L890.8,336 L891.3,332.7 L891.7,329.1 L892.2,325.7 L892.6,323.6 L893.1,320.8 L893.5,319.7 L894,318 L894.4,318 L894.9,317.8 L895.3,318.3 L895.8,319.5 L896.2,321 L896.7,323.2 L897.1,325.6 L897.6,329.8 L898,332.6 L898.5,336.4 L898.9,339.7 L899.4,343.8 L899.8,347.6 L900.3,351.7 L900.7,355.5 L901.2,359.2 L901.6,363.5 L902.1,367.1 L902.5,370.5 L903,373.6 L903.4,376.7 L903.9,379.7 L904.3,382.1 L904.8,383.5 L905.2,384.7 L905.7,386.4 L906.1,386.2 L906.6,384.8 L907,384.1 L907.5,383.1 L907.9,380 L908.4,376.6 L908.8,374 L909.3,370.3 L909.7,365.9 L910.2,361.7 L910.6,358.1 L911.1,353.7 L911.5,349.1 L912,344.7 L912.4,340.9 L912.9,337.5 L913.3,334.6 L913.8,331.2 L914.2,329.5 L914.7,328.9 L915.1,327.3 L915.6,327.7 L916,329.8 L916.5,330.8 L916.9,334.2 L917.4,337.6 L917.8,341.3 L918.3,345.9 L918.7,350.7 L919.2,355 L919.6,359.8 L920.1,364.3 L920.5,368.8 L921,371.8 L921.4,375.2 L921.9,377.9 L922.3,378.6 L922.8,379.4 L923.2,380.1 L923.7,379.2 L924.1,377.2 L924.6,375.7 L925,373.8 L925.5,370.7 L925.9,367.5 L926.4,364.3 L926.8,361.2 L927.3,356.8 L927.7,353.3 L928.2,349.1 L928.6,345.2 L929.1,341.3 L929.5,337.4 L930,332.9 L930.4,328.8 L930.9,325.7 L931.3,321 L931.8,318.3 L932.2,314.7 L932.7,310.7 L933.1,309.6 L933.6,307.6 L934,305.9 L934.5,304.1 L934.9,305.6 L935.4,304.5 L935.8,305.5 L936.3,308.3 L936.7,308.5 L937.2,312.6 L937.6,315.6 L938.1,318.3 L938.5,322.5 L939,325.2 L939.4,328.5 L939.9,331.1 L940.3,333.9 L940.8,334.4 L941.2,335.2 L941.7,335.5 L942.1,334 L942.6,332.7 L943,329.9 L943.5,327.4 L943.9,323.8 L944.4,320.3 L944.8,315.9 L945.3,312.3 L945.7,308.9 L946.2,303.9 L946.6,300 L947.1,294.7 L947.5,290.5 L948,286.9 L948.4,284.7 L948.9,281.9 L949.3,280 L949.8,274.5 L950.2,275 L950.7,273.9 L951.1,270.9 L951.6,267.5 L952,267.8 L952.5,265.7 L952.9,265.9 L953.4,269 L953.8,267 L954.3,266.8 L954.7,267.1 L955.2,267.4 L955.6,265.6 L956.1,265.4 L956.5,265.3 L957,265.5 L957.4,264.8 L957.9,265.1 L958.3,262.6 L958.8,264.8 L959.2,263.7 L959.7,265.2 L960.1,261.7 L960.6,262.1 L961,261.3 L961.5,265 L961.9,265.7 L962.4,264.3 L962.8,262.8 L963.3,265.1 L963.7,264.8 L964.2,263.6 L964.6,262 L965.1,262.2 L965.5,262.7 L966,262.2 L966.4,262.7 L966.9,263.6 L967.3,265 L967.8,260.4 L968.2,262.9 L968.7,260 L969.1,260.2 L969.6,263.6 L970,262.2 L970.5,263.8 L970.9,261 L971.4,258.4 L971.8,260.1 L972.3,260.9 L972.7,262.5 L973.2,262.4 L973.6,259.4 L974.1,258.7 L974.5,256.7 L975,259.4 L975.4,256.7 L975.9,256.1 L976.3,255 L976.8,254.7 L977.2,258.3 L977.7,254.9 L978.1,259.5 L978.6,254.2 L979,258.5 L979.5,253.9 L979.9,253.1 L980.4,256.9 L980.8,253.9 L981.3,256.5 L981.7,253.1 L982.2,252 L982.6,256.1 L983.1,255.5 L983.5,256.1 L984,255.2 L984.4,251.1 L984.9,254.2 L985.3,254.5 L985.8,252.8 L986.2,255.5 L986.7,251.2 L987.1,255.3 L987.6,253.7 L988,249.2 L988.5,249.1 L988.9,252.9 L989.4,253.9 L989.8,249.2 L990.3,250.6 L990.7,253.2 L991.2,249.6 L991.6,253.9 L992.1,251.6 L992.5,249 L993,251 L993.4,252.4 L993.9,251.7 L994.3,253.4 L994.8,250.4 L995.2,254.8 L995.7,252.6 L996.1,254.8 L996.6,255.5 L997,254.9 L997.5,255.7 L997.9,258.9 L998.4,260.8 L998.8,261.1 L999.3,261.2 L999.7,261.2 L1000.2,261.7 L1000.6,268 L1001.1,268.7 L1001.5,271.5 L1002,272.1 L1002.4,276.3 L1002.9,281.6 L1003.3,286.1 L1003.8,291.7 L1004.2,298 L1004.7,305.2 L1005.1,312.1 L1005.6,316.7 L1006,322.7 L1006.5,328.9 L1006.9,335.4 L1007.4,341.3 L1007.8,345.7 L1008.3,349.6 L1008.7,352.7 L1009.2,354.8 L1009.6,355.8 L1010.1,356.1 L1010.5,354.7 L1011,352.7 L1011.4,350.2 L1011.9,346.9 L1012.3,343.7 L1012.8,339.7 L1013.2,335.6 L1013.7,332.5 L1014.1,329.1 L1014.6,325.5 L1015,322.6 L1015.5,319.5 L1015.9,316.8 L1016.4,315.3 L1016.8,314.9 L1017.3,313.4 L1017.7,313.9 L1018.2,314.6 L1018.6,315.2 L1019.1,317.7 L1019.5,319.7 L1020,322.2 L1020.4,325.3 L1020.9,328.8 L1021.3,332.7 L1021.8,336.5 L1022.2,340.2 L1022.7,344 L1023.1,348.5 L1023.6,352.5 L1024,356.1 L1024.5,360.3 L1024.9,364.4 L1025.4,368.1 L1025.8,371.1 L1026.3,374.2 L1026.7,377.5 L1027.2,380.1 L1027.6,381.7 L1028.1,383.3 L1028.5,385.1 L1029,385.8 L1029.4,385.2 L1029.9,384.3 L1030.3,383.7 L1030.8,381.5 L1031.2,378.9 L1031.7,376.8 L1032.1,373.8 L1032.6,370 L1033,366.6 L1033.5,363.1 L1033.9,359 L1034.4,355.4 L1034.8,351.4 L1035.3,347.7 L1035.7,344.2 L1036.2,341.1 L1036.6,338.8 L1037.1,336.9 L1037.5,335.1 L1038,333.8 L1038.4,333.2 L1038.9,334.8 L1039.3,335.6 L1039.8,337.8 L1040.2,340.7 L1040.7,343.9 L1041.1,347.5 L1041.6,351.2 L1042,355.3 L1042.5,359.5 L1042.9,363.5 L1043.4,367.5 L1043.8,370.7 L1044.3,373.7 L1044.7,376.6 L1045.2,378 L1045.6,378.9 L1046.1,379.5 L1046.5,379.2 L1047,377.8 L1047.4,376.1 L1047.9,374.2 L1048.3,372.3 L1048.8,368.9 L1049.2,366 L1049.7,362.9 L1050.1,359.8 L1050.6,355.9 L1051,352 L1051.5,348.3 L1051.9,344.3 L1052.4,341.2 L1052.8,337.4 L1053.3,332.9 L1053.7,328.8 L1054.2,325.8 L1054.6,322.6 L1055.1,320.2 L1055.5,316.9 L1056,314.7 L1056.4,311.3 L1056.9,310.8 L1057.3,309.1 L1057.8,309.1 L1058.2,309.9 L1058.7,308.1 L1059.1,310.1 L1059.6,313.2 L1060,315.3 L1060.5,317.8 L1060.9,320.3 L1061.4,323.8 L1061.8,327.4 L1062.3,330 L1062.7,333.3 L1063.2,336 L1063.6,338.6 L1064.1,340.2 L1064.5,341 L1065,341.5 L1065.4,340.6 L1065.9,340.3 L1066.3,338 L1066.8,336.7 L1067.2,334 L1067.7,330.9 L1068.1,329.1 L1068.6,325 L1069,322.6 L1069.5,319.1 L1069.9,315.7 L1070.4,310.9 L1070.8,308.1 L1071.3,303.9 L1071.7,302.3 L1072.2,298 L1072.6,292.7 L1073.1,287.2 L1073.5,282.3 L1074,280.5 L1074.4,276.8 L1074.9,275.4 L1075.3,271.9 L1075.8,271.1 L1076.2,269.5 L1076.7,271.9 L1077.1,270.7 L1077.6,268.6 L1078,271.7 L1078.5,268.7 L1078.9,269.1 L1079.4,267.7 L1079.8,267.9 L1080.3,270.3 L1080.7,267.6 L1081.2,266.5 L1081.6,267.7 L1082.1,266.6 L1082.5,269.1 L1083,264.9 L1083.4,268.8 L1083.9,264 L1084.3,267.8 L1084.8,266.4 L1085.2,263.9 L1085.7,264.9 L1086.1,263.7 L1086.6,263.2 L1087,262.7 L1087.5,263.2 L1087.9,266.1 L1088.4,265.9 L1088.8,265.3 L1089.3,260.7 L1089.7,261.4 L1090.2,264.3 L1090.6,259.7 L1091.1,262.9 L1091.5,260.4 L1092,263.8 L1092.4,258.4 L1092.9,262.4 L1093.3,259.6 L1093.8,258.2 L1094.2,257.2 L1094.7,261.5 L1095.1,259.6 L1095.6,257.5 L1096,258.6 L1096.5,261 L1096.9,256.9 L1097.4,258.6 L1097.8,256 L1098.3,255.9 L1098.7,259 L1099.2,258.5 L1099.6,255.3 L1100.1,254.4 L1100.5,254.2 L1101,256.9 L1101.4,256.1 L1101.9,254.5 L1102.3,253.9 L1102.8,256.1 L1103.2,256.4 L1103.7,256.8 L1104.1,255.2 L1104.6,252.7 L1105,251.7 L1105.5,255.5 L1105.9,253.4 L1106.4,255 L1106.8,250.8 L1107.3,255.2 L1107.7,252.2 L1108.2,255.1 L1108.6,255.1 L1109.1,252.6 L1109.5,249.6 L1110,254.9 L1110.4,252.2 L1110.9,254.5 L1111.3,250.6 L1111.8,250 L1112.2,254 L1112.7,251 L1113.1,249.7 L1113.6,250.9 L1114,252.2 L1114.5,248.5 L1114.9,251.7 L1115.4,251.2 L1115.8,251.6 L1116.3,249.1 L1116.7,252.8 L1117.2,253.5 L1117.6,253.8 L1118.1,250.5 L1118.5,253 L1119,251 L1119.4,253.4 L1119.9,249.3 L1120.3,254.5 L1120.8,255.2 L1121.2,252.7 L1121.7,253.2 L1122.1,253.7 L1122.6,254.3 L1123,252.1 L1123.5,258.5 L1123.9,255.8 L1124.4,257.7 L1124.8,260.1 L1125.3,264.3 L1125.7,269.9 L1126.2,268.5 L1126.6,270.5 L1127.1,274.7 L1127.5,274.1 L1128,274.9 L1128.4,278.9 L1128.9,280.7 L1129.3,282.8 L1129.8,286.1 L1130.2,287.2 L1130.7,293.1 L1131.1,296.4 L1131.6,298.6 L1132,303 L1132.5,308 L1132.9,312.2 L1133.4,316.4 L1133.8,321.5 L1134.3,328.6 L1134.7,335.1 L1135.2,342.2 L1135.6,347.8 L1136.1,351.8 L1136.5,355.4 L1137,357.4 L1137.4,358.2 L1137.9,358.8 L1138.3,357.6 L1138.8,356 L1139.2,353.8 L1139.7,351.2 L1140.1,348.1 L1140.6,344.9 L1141,342 L1141.5,338.5 L1141.9,334.8 L1142.4,331.6 L1142.8,328.7 L1143.3,325.7 L1143.7,324.1 L1144.2,321.8 L1144.6,320 L1145.1,317.8 L1145.5,317.5 L1146,315.8 L1146.4,316.2 L1146.9,317.3 L1147.3,319.1 L1147.8,320 L1148.2,322.1 L1148.7,325.2 L1149.1,328.4 L1149.6,332.1 L1150,335.1 L1150.5,339.4 L1150.9,343.7 L1151.4,347.6 L1151.8,351.9 L1152.3,356.6 L1152.7,360.6 L1153.2,364.8 L1153.6,368.8 L1154.1,372.7 L1154.5,376 L1155,379.2 L1155.4,382 L1155.9,385.1 L1156.3,386.4 L1156.8,388.1 L1157.2,389.5 L1157.7,390.3 L1158.1,389.7 L1158.6,388.6 L1159,387.6 L1159.5,386.1 L1159.9,383.3 L1160.4,380.9 L1160.8,377.9 L1161.3,374.7 L1161.7,371.1 L1162.2,367.2 L1162.6,363.8 L1163.1,360.2 L1163.5,356.1 L1164,352.1 L1164.4,348.4 L1164.9,345.2 L1165.3,341.8 L1165.8,338.6 L1166.2,335.8 L1166.7,334.5 L1167.1,333.1 L1167.6,331.5 L1168,331.5 L1168.5,332.3 L1168.9,333.7 L1169.4,335.5 L1169.8,338.2 L1170.3,341 L1170.7,344.2 L1171.2,347.8 L1171.6,352.1 L1172.1,355.9 L1172.5,359.8 L1173,363.7 L1173.4,367.5 L1173.9,370.1 L1174.3,372.7 L1174.8,375.4 L1175.2,376.5 L1175.7,377 L1176.1,377.7 L1176.6,377.2 L1177,375.6 L1177.5,374.1 L1177.9,372 L1178.4,369.6 L1178.8,366.4 L1179.3,363.1 L1179.7,360.2 L1180.2,356.4 L1180.6,352.7 L1181.1,348.4 L1181.5,344.4 L1182,341.1 L1182.4,336.7 L1182.9,332.3 L1183.3,328.6 L1183.8,324.7 L1184.2,321.5 L1184.7,317 L1185.1,313.6 L1185.6,311.5 L1186,308.7 L1186.5,305.3 L1186.9,303.5 L1187.4,302.1 L1187.8,302.9 L1188.3,302.8 L1188.7,304.1 L1189.2,306.2 L1189.6,307.8 L1190.1,311.5 L1190.5,315.2 L1191,319.1 L1191.4,322.8 L1191.9,327.3 L1192.3,330.5 L1192.8,334.1 L1193.2,334.6 L1193.7,336.6 L1194.1,335.4 L1194.6,335.1 L1195,333.4 L1195.5,330.9 L1195.9,329 L1196.4,325.3 L1196.8,321.8 L1197.3,318.8 L1197.7,315.1 L1198.2,310.8 L1198.6,306.4 L1199.1,302.7 L1199.5,299.2 L1200,296.6 L1200.4,292.2 L1200.9,288.9 L1201.3,285.9 L1201.8,282.2 L1202.2,279.6 L1202.7,279.6 L1203.1,278.2 L1203.6,275.4 L1204,274 L1204.5,272 L1204.9,271.7 L1205.4,270.4 L1205.8,271.7 L1206.3,271.2 L1206.7,268.5 L1207.2,271.8 L1207.6,268.6 L1208.1,270.6 L1208.5,270.2 L1209,270.4 L1209.4,266.4 L1209.9,267.1 L1210.3,269.1 L1210.8,264.4 L1211.2,264.3 L1211.7,266.4 L1212.1,265.8 L1212.6,267.6 L1213,266.5 L1213.5,265.1 L1213.9,267.1 L1214.4,264.4 L1214.8,264.1 L1215.3,264.6 L1215.7,262.8 L1216.2,262.4 L1216.6,263.3 L1217.1,261.8 L1217.5,264.6 L1218,262.9 L1218.4,261.9 L1218.9,259.3 L1219.3,260.5 L1219.8,260.4 L1220.2,261 L1220.7,260.8 L1221.1,262.2 L1221.6,262.4 L1222,259.5 L1222.5,259 L1222.9,259.8 L1223.4,261.6 L1223.8,257.7 L1224.3,258.5 L1224.7,259.8 L1225.2,256 L1225.6,256.6 L1226.1,260.1 L1226.5,259 L1227,256.9 L1227.4,254.4 L1227.9,258.7 L1228.3,257.3 L1228.8,257.8 L1229.2,258.6 L1229.7,257.8 L1230.1,254.9 L1230.6,253.1 L1231,253.7 L1231.5,254.8 L1231.9,254.6 L1232.4,252.6 L1232.8,252.4 L1233.3,254.9 L1233.7,254.5 L1234.2,252.9 L1234.6,256.6 L1235.1,254.3 L1235.5,250.6 L1236,252.7 L1236.4,254.8 L1236.9,251.8 L1237.3,254 L1237.8,249.7 L1238.2,251.5 L1238.7,254.6 L1239.1,253 L1239.6,253.4 L1240,250.4 L1240.5,252.2 L1240.9,252.5 L1241.4,250.6 L1241.8,252.9 L1242.3,252.2 L1242.7,255 L1243.2,252.3 L1243.6,251.3 L1244.1,249.5 L1244.5,249.7 L1245,253.4 L1245.4,249.4 L1245.9,249.4 L1246.3,249.9 L1246.8,252.2 L1247.2,254.2 L1247.7,253.1 L1248.1,254.8 L1248.6,251.4 L1249,253.5 L1249.5,259.3 L1249.9,258.1 L1250.4,261.5 L1250.8,260.9 L1251.3,261.5 L1251.7,263.6 L1252.2,264.6 L1252.6,270.5 L1253.1,271.2 L1253.5,272.7 L1254,275.9 L1254.4,278.6 L1254.9,280.5 L1255.3,286.8 L1255.8,289.2 L1256.2,294 L1256.7,296.5 L1257.1,301.6 L1257.6,306.2 L1258,311.7 L1258.5,318.7 L1258.9,323.3 L1259.4,326.8 L1259.8,331.3 L1260.3,334.7 L1260.7,337.7 L1261.2,341.3 L1261.6,344.8 L1262.1,347.7 L1262.5,351.3 L1263,354 L1263.4,357.4 L1263.5,358.2" fill="none" stroke="#000" stroke-width="3.5" stroke-linejoin="round" stroke-linecap="round"/>
<path d="M751.3,564.9 L751.8,559 L752.2,553.7 L752.7,549.2 L753.1,543.4 L753.6,538.8 L754,532.7 L754.5,527.5 L754.9,522.8 L755.4,517.4 L755.8,515.4 L756.3,509.4 L756.7,507.1 L757.2,502.5 L757.6,501.5 L758.1,498.7 L758.5,497.1 L759,494.2 L759.4,493.2 L759.9,495.4 L760.3,492.4 L760.8,491.1 L761.2,490.2 L761.7,490.1 L762.1,489.3 L762.6,487.9 L763,490.6 L763.5,488.6 L763.9,487.3 L764.4,489.7 L764.8,486.3 L765.3,486.9 L765.7,489.5 L766.2,485.6 L766.6,486.9 L767.1,488.6 L767.5,488.1 L768,484.5 L768.4,485.2 L768.9,486.8 L769.3,484.7 L769.8,487.5 L770.2,483.3 L770.7,486.9 L771.1,484.3 L771.6,482.5 L772,483.5 L772.5,481.5 L772.9,484.3 L773.4,481.7 L773.8,484.9 L774.3,482.9 L774.7,481.5 L775.2,480.6 L775.6,482.3 L776.1,479.9 L776.5,483.3 L777,478.9 L777.4,480.8 L777.9,480.8 L778.3,479 L778.8,481.6 L779.2,479.1 L779.7,480.5 L780.1,479.7 L780.6,478 L781,478.2 L781.5,476.2 L781.9,476.4 L782.4,480.1 L782.8,476.8 L783.3,478.5 L783.7,474.9 L784.2,477.4 L784.6,475.9 L785.1,476.5 L785.5,475 L786,473.3 L786.4,474.6 L786.9,473.8 L787.3,473 L787.8,476.4 L788.2,473.6 L788.7,474.2 L789.1,477.2 L789.6,476.2 L790,476.8 L790.5,476.6 L790.9,472.1 L791.4,472.9 L791.8,471.4 L792.3,475.5 L792.7,475.5 L793.2,473.8 L793.6,474.5 L794.1,476.5 L794.5,477.5 L795,475.6 L795.4,480.4 L795.9,479.1 L796.3,482.7 L796.8,482.8 L797.2,485.2 L797.7,491.9 L798.1,493.5 L798.6,495.7 L799,494.8 L799.5,496.9 L799.9,499.3 L800.4,501.4 L800.8,503.7 L801.3,505.9 L801.7,506.7 L802.2,509.7 L802.6,512.9 L803.1,513.7 L803.5,518.1 L804,519.9 L804.4,523.4 L804.9,525.7 L805.3,530.1 L805.8,535.1 L806.2,539.1 L806.7,543.2 L807.1,548.9 L807.6,553.1 L808,557.5 L808.5,562.4 L808.9,569 L809.4,574.5 L809.8,579.8 L810.3,585.7 L810.7,590.4 L811.2,595.5 L811.6,599 L812.1,602.6 L812.5,605.7 L813,606.8 L813.4,608.4 L813.9,609.2 L814.3,608.4 L814.8,607.5 L815.2,606.2 L815.7,603.7 L816.1,601.6 L816.6,598.8 L817,596.2 L817.5,592.9 L817.9,589.8 L818.4,586.7 L818.8,583.4 L819.3,580.2 L819.7,576.7 L820.2,574.1 L820.6,571.2 L821.1,568.9 L821.5,566.8 L822,563.6 L822.4,563.2 L822.9,561.5 L823.3,561.2 L823.8,561 L824.2,561.7 L824.7,563.3 L825.1,564.9 L825.6,567.6 L826,570.7 L826.5,573.6 L826.9,577.3 L827.4,581.5 L827.8,585.6 L828.3,589.5 L828.7,593.5 L829.2,597.3 L829.6,601.2 L830.1,604 L830.5,606.5 L831,609.2 L831.4,610.3 L831.9,610.9 L832.3,611.9 L832.8,611.5 L833.2,609.7 L833.7,608.3 L834.1,606.2 L834.6,603.9 L835,600.5 L835.5,597.5 L835.9,594.1 L836.4,590.5 L836.8,586.2 L837.3,582.4 L837.7,578.3 L838.2,574.1 L838.6,570.2 L839.1,566.2 L839.5,561.3 L840,557.4 L840.4,553.9 L840.9,550.1 L841.3,546.2 L841.8,543.3 L842.2,540.9 L842.7,539.6 L843.1,537 L843.6,535.3 L844,535.6 L844.5,535.7 L844.9,535.6 L845.4,536.7 L845.8,538 L846.3,539.4 L846.7,543.4 L847.2,545.5 L847.6,546.9 L848.1,550.6 L848.5,553.8 L849,556.2 L849.4,558.3 L849.9,561.3 L850.3,563.7 L850.8,564.7 L851.2,566.3 L851.7,565.5 L852.1,565.7 L852.6,563.2 L853,559.8 L853.5,555.4 L853.9,549.3 L854.4,543 L854.8,538.4 L855.3,534.1 L855.7,529.7 L856.2,527.3 L856.6,523.3 L857.1,517.5 L857.5,513 L858,510.4 L858.4,507.4 L858.9,504.2 L859.3,497.9 L859.8,497.5 L860.2,494.6 L860.7,492.1 L861.1,489.1 L861.6,487.8 L862,490.5 L862.5,487.5 L862.9,487.2 L863.4,487.8 L863.8,486.5 L864.3,488.5 L864.7,485.1 L865.2,483.8 L865.6,486.3 L866.1,486.4 L866.5,487.1 L867,486.3 L867.4,487.1 L867.9,487.1 L868.3,484.5 L868.8,484.4 L869.2,482.3 L869.7,482.9 L870.1,484.2 L870.6,481.3 L871,484.4 L871.5,481.4 L871.9,482.7 L872.4,485.4 L872.8,480.4 L873.3,479.9 L873.7,481.9 L874.2,480.4 L874.6,483.1 L875.1,478.9 L875.5,483.4 L876,483.3 L876.4,482.7 L876.9,480.4 L877.3,479.4 L877.8,481.3 L878.2,480.2 L878.7,479.5 L879.1,478.7 L879.6,479.1 L880,480.1 L880.5,480.8 L880.9,481 L881.4,476.4 L881.8,476.9 L882.3,477.5 L882.7,477.9 L883.2,476.4 L883.6,475.2 L884.1,474.2 L884.5,475.4 L885,476 L885.4,478.8 L885.9,478.2 L886.3,477.7 L886.8,478.1 L887.2,477.8 L887.7,475.5 L888.1,476.5 L888.6,471.7 L889,475.3 L889.5,474.7 L889.9,472.6 L890.4,474.3 L890.8,476.6 L891.3,473.5 L891.7,474.5 L892.2,472.4 L892.6,472.7 L893.1,476.2 L893.5,471 L894,472.2 L894.4,475.6 L894.9,474.5 L895.3,472.8 L895.8,477 L896.2,476 L896.7,478.2 L897.1,478.3 L897.6,480.2 L898,481.7 L898.5,482.3 L898.9,482.5 L899.4,484.8 L899.8,490.6 L900.3,491.3 L900.7,491.9 L901.2,498 L901.6,498.3 L902.1,500.7 L902.5,505.5 L903,507.7 L903.4,511.9 L903.9,515.8 L904.3,518.9 L904.8,524.1 L905.2,527.4 L905.7,532.9 L906.1,538.3 L906.6,543.1 L907,550.6 L907.5,557.1 L907.9,564.4 L908.4,571.4 L908.8,577 L909.3,582.6 L909.7,586.8 L910.2,590.5 L910.6,592.9 L911.1,594.6 L911.5,594.3 L912,593.7 L912.4,592.3 L912.9,589.1 L913.3,586.5 L913.8,582.9 L914.2,579.2 L914.7,574.9 L915.1,571.6 L915.6,567.4 L916,563.9 L916.5,560.9 L916.9,558 L917.4,556.2 L917.8,553.7 L918.3,553.2 L918.7,553.1 L919.2,552.2 L919.6,554.2 L920.1,555.6 L920.5,557.7 L921,559.4 L921.4,563 L921.9,566.2 L922.3,568.9 L922.8,572.9 L923.2,576.5 L923.7,580.6 L924.1,584.4 L924.6,588.4 L925,591.7 L925.5,595.5 L925.9,599.4 L926.4,603.1 L926.8,605.8 L927.3,608.2 L927.7,611.3 L928.2,613.8 L928.6,615.1 L929.1,616.3 L929.5,617 L930,618.4 L930.4,617.2 L930.9,615.6 L931.3,614.2 L931.8,613 L932.2,610.4 L932.7,607.2 L933.1,603.8 L933.6,600.7 L934,596.9 L934.5,593.2 L934.9,588.8 L935.4,585 L935.8,580.6 L936.3,576.6 L936.7,572.2 L937.2,567.7 L937.6,564.4 L938.1,560.4 L938.5,556.9 L939,553.4 L939.4,551.1 L939.9,547.6 L940.3,545.9 L940.8,543.6 L941.2,544.2 L941.7,544.8 L942.1,544.6 L942.6,544.5 L943,546.4 L943.5,549 L943.9,550.8 L944.4,553.1 L944.8,555.8 L945.3,558.3 L945.7,562 L946.2,564.6 L946.6,567.9 L947.1,570.3 L947.5,572.5 L948,574.2 L948.4,575.3 L948.9,576.4 L949.3,575.5 L949.8,574.1 L950.2,572 L950.7,569.5 L951.1,566 L951.6,561.9 L952,557.1 L952.5,552.2 L952.9,547.2 L953.4,543.8 L953.8,539.1 L954.3,533.4 L954.7,529 L955.2,525 L955.6,517.1 L956.1,512.7 L956.5,510.5 L957,505.5 L957.4,502.1 L957.9,499.5 L958.3,495.7 L958.8,495.3 L959.2,494 L959.7,495 L960.1,494.4 L960.6,489.3 L961,491.2 L961.5,491.7 L961.9,491.9 L962.4,491 L962.8,490 L963.3,489.6 L963.7,488.1 L964.2,487.5 L964.6,489.8 L965.1,490 L965.5,490.2 L966,488.7 L966.4,486.7 L966.9,488.9 L967.3,488.6 L967.8,487.3 L968.2,487.8 L968.7,486.2 L969.1,487.2 L969.6,486.3 L970,484.4 L970.5,485.7 L970.9,485.5 L971.4,488.9 L971.8,486.1 L972.3,485.4 L972.7,484.6 L973.2,484.5 L973.6,484.9 L974.1,483.7 L974.5,482.9 L975,487.2 L975.4,484.8 L975.9,484.6 L976.3,485.1 L976.8,483.5 L977.2,482.6 L977.7,481.8 L978.1,482.7 L978.6,482.5 L979,484.5 L979.5,483.3 L979.9,485.1 L980.4,481.5 L980.8,484.4 L981.3,482.2 L981.7,479.1 L982.2,479.3 L982.6,481.3 L983.1,483.2 L983.5,479.3 L984,481.3 L984.4,479 L984.9,481.2 L985.3,476.2 L985.8,478.3 L986.2,480.4 L986.7,476.4 L987.1,475.9 L987.6,474.2 L988,474.7 L988.5,475 L988.9,477.3 L989.4,474.1 L989.8,474.8 L990.3,473.4 L990.7,475.6 L991.2,477 L991.6,475.4 L992.1,472.5 L992.5,475.7 L993,477 L993.4,474.7 L993.9,471.4 L994.3,476.2 L994.8,477 L995.2,474.4 L995.7,474.1 L996.1,475.3 L996.6,478.4 L997,481.4 L997.5,481.2 L997.9,484.1 L998.4,481.6 L998.8,483.9 L999.3,487.7 L999.7,488.9 L1000.2,489.6 L1000.6,492.8 L1001.1,493.1 L1001.5,493.9 L1002,497.5 L1002.4,498.1 L1002.9,502.7 L1003.3,503.8 L1003.8,506.8 L1004.2,509.7 L1004.7,511.2 L1005.1,514.9 L1005.6,516.8 L1006,522.9 L1006.5,526 L1006.9,531.4 L1007.4,534.2 L1007.8,540.3 L1008.3,545.4 L1008.7,549.6 L1009.2,554.4 L1009.6,560.1 L1010.1,566.9 L1010.5,574.3 L1011,580.6 L1011.4,586.7 L1011.9,591.3 L1012.3,594.8 L1012.8,597.1 L1013.2,598.2 L1013.7,598.5 L1014.1,596.9 L1014.6,595.2 L1015,592.4 L1015.5,588.9 L1015.9,585.8 L1016.4,581.9 L1016.8,578 L1017.3,573.7 L1017.7,570.4 L1018.2,566.9 L1018.6,562.8 L1019.1,559.8 L1019.5,557.4 L1020,555.3 L1020.4,552.7 L1020.9,551.8 L1021.3,551.7 L1021.8,552.1 L1022.2,554.2 L1022.7,555.6 L1023.1,558.7 L1023.6,561.9 L1024,566.5 L1024.5,570 L1024.9,575 L1025.4,580.1 L1025.8,585.1 L1026.3,590.2 L1026.7,594.9 L1027.2,599.5 L1027.6,604 L1028.1,607.2 L1028.5,610.5 L1029,614 L1029.4,615.5 L1029.9,616.9 L1030.3,617.7 L1030.8,618 L1031.2,617.1 L1031.7,615.6 L1032.1,614.7 L1032.6,612.7 L1033,609.9 L1033.5,606.9 L1033.9,604.3 L1034.4,601.3 L1034.8,597.6 L1035.3,594.3 L1035.7,590.3 L1036.2,587 L1036.6,583 L1037.1,579.5 L1037.5,575.6 L1038,572.2 L1038.4,567.7 L1038.9,564.8 L1039.3,561.3 L1039.8,558.6 L1040.2,555.3 L1040.7,552.7 L1041.1,550 L1041.6,548 L1042,546.3 L1042.5,546.6 L1042.9,546.2 L1043.4,546.3 L1043.8,549 L1044.3,550.6 L1044.7,552.4 L1045.2,556.4 L1045.6,558.7 L1046.1,562.7 L1046.5,566.1 L1047,570.2 L1047.4,573.4 L1047.9,575.5 L1048.3,577.4 L1048.8,578.3 L1049.2,577.5 L1049.7,576.6 L1050.1,574.9 L1050.6,573 L1051,569.6 L1051.5,566.7 L1051.9,563 L1052.4,559 L1052.8,555.5 L1053.3,552.3 L1053.7,547.6 L1054.2,544.2 L1054.6,538.3 L1055.1,534 L1055.5,529.7 L1056,523.9 L1056.4,521.8 L1056.9,518.5 L1057.3,512.6 L1057.8,508.1 L1058.2,504.9 L1058.7,505.1 L1059.1,498.7 L1059.6,500 L1060,494.7 L1060.5,495.8 L1060.9,492 L1061.4,491.8 L1061.8,493.7 L1062.3,490.6 L1062.7,491.3 L1063.2,493.7 L1063.6,492.3 L1064.1,492.8 L1064.5,492.9 L1065,488 L1065.4,488.6 L1065.9,491 L1066.3,490.2 L1066.8,486.7 L1067.2,488.7 L1067.7,487.1 L1068.1,487.8 L1068.6,485.9 L1069,485.2 L1069.5,489.8 L1069.9,486.1 L1070.4,488.7 L1070.8,484.6 L1071.3,486.2 L1071.7,484.1 L1072.2,485.4 L1072.6,483.8 L1073.1,486.2 L1073.5,483.1 L1074,485.9 L1074.4,484.4 L1074.9,482.1 L1075.3,483.1 L1075.8,483.6 L1076.2,485.6 L1076.7,482.2 L1077.1,481.2 L1077.6,485 L1078,484.3 L1078.5,483.1 L1078.9,480.3 L1079.4,479.5 L1079.8,479.6 L1080.3,478.2 L1080.7,477.8 L1081.2,480.1 L1081.6,479.2 L1082.1,479.8 L1082.5,478.4 L1083,476 L1083.4,479.7 L1083.9,479.2 L1084.3,478.2 L1084.8,478 L1085.2,478.5 L1085.7,480 L1086.1,479.1 L1086.6,477.9 L1087,475.7 L1087.5,474.9 L1087.9,475.3 L1088.4,478.4 L1088.8,474.6 L1089.3,474.4 L1089.7,474.3 L1090.2,472.4 L1090.6,477.5 L1091.1,471.2 L1091.5,474.8 L1092,476.7 L1092.4,472.4 L1092.9,474.5 L1093.3,473.1 L1093.8,472.3 L1094.2,472 L1094.7,471.7 L1095.1,476.5 L1095.6,476.3 L1096,477.5 L1096.5,472.8 L1096.9,477.5 L1097.4,476.1 L1097.8,479 L1098.3,479.5 L1098.7,479.2 L1099.2,484 L1099.6,479.8 L1100.1,485.3 L1100.5,487.4 L1101,487.5 L1101.4,490.1 L1101.9,494.2 L1102.3,492.8 L1102.8,496.6 L1103.2,499 L1103.7,499.3 L1104.1,502.5 L1104.6,503.2 L1105,505.6 L1105.5,508 L1105.9,510.5 L1106.4,511.7 L1106.8,515.5 L1107.3,518.3 L1107.7,521 L1108.2,526.1 L1108.6,529.9 L1109.1,536.1 L1109.5,540.2 L1110,545.5 L1110.4,549.9 L1110.9,554.8 L1111.3,559.9 L1111.8,566 L1112.2,573.1 L1112.7,579.1 L1113.1,585.4 L1113.6,590.7 L1114,596.1 L1114.5,599.3 L1114.9,602.8 L1115.4,604.9 L1115.8,606.1 L1116.3,606.7 L1116.7,605.5 L1117.2,604.3 L1117.6,602.1 L1118.1,598.8 L1118.5,596 L1119,592.9 L1119.4,589.3 L1119.9,585.2 L1120.3,581.6 L1120.8,578.1 L1121.2,574.5 L1121.7,571.1 L1122.1,568.6 L1122.6,565.7 L1123,562.9 L1123.5,560.6 L1123.9,560 L1124.4,559.7 L1124.8,559 L1125.3,560.5 L1125.7,562.3 L1126.2,565 L1126.6,569 L1127.1,572.7 L1127.5,577.8 L1128,582.8 L1128.4,588.2 L1128.9,593.1 L1129.3,598.1 L1129.8,603.1 L1130.2,606.7 L1130.7,609.9 L1131.1,613.3 L1131.6,615.1 L1132,615.9 L1132.5,616.9 L1132.9,617.6 L1133.4,615.9 L1133.8,614.5 L1134.3,613 L1134.7,611.6 L1135.2,608.4 L1135.6,605.8 L1136.1,603.1 L1136.5,599.9 L1137,596.9 L1137.4,593.6 L1137.9,590 L1138.3,586.4 L1138.8,582.8 L1139.2,579.5 L1139.7,575.9 L1140.1,572.6 L1140.6,568.7 L1141,565.2 L1141.5,562.3 L1141.9,559.4 L1142.4,555.8 L1142.8,552.7 L1143.3,550.3 L1143.7,548.9 L1144.2,545.8 L1144.6,545.1 L1145.1,543.5 L1145.5,542.9 L1146,543.5 L1146.4,543 L1146.9,544 L1147.3,546.9 L1147.8,548.1 L1148.2,550.8 L1148.7,553.7 L1149.1,557.1 L1149.6,560.2 L1150,562.8 L1150.5,566.8 L1150.9,569.5 L1151.4,572.4 L1151.8,574.7 L1152.3,575.5 L1152.7,576.1 L1153.2,575 L1153.6,572.8 L1154.1,569.3 L1154.5,564.5 L1155,559 L1155.4,551.9 L1155.9,545.1 L1156.3,538.5 L1156.8,532.3 L1157.2,528.3 L1157.7,521.5 L1158.1,515.8 L1158.6,510.6 L1159,504.4 L1159.5,501.6 L1159.9,498.8 L1160.4,499.9 L1160.8,495.4 L1161.3,493.9 L1161.7,495.9 L1162.2,494.1 L1162.6,491.2 L1163.1,493.5 L1163.5,493.2 L1164,491.8 L1164.4,489.4 L1164.9,492.1 L1165.3,490.5 L1165.8,491 L1166.2,492.7 L1166.7,491.5 L1167.1,491.5 L1167.6,487.6 L1168,488.2 L1168.5,488.8 L1168.9,485.9 L1169.4,490.5 L1169.8,486.6 L1170.3,486.2 L1170.7,486.2 L1171.2,485.5 L1171.6,488.3 L1172.1,486.4 L1172.5,485.9 L1173,485.1 L1173.4,482.8 L1173.9,483.8 L1174.3,486.5 L1174.8,485.9 L1175.2,485.9 L1175.7,482.3 L1176.1,481.7 L1176.6,480.6 L1177,482.9 L1177.5,481.8 L1177.9,482 L1178.4,481.8 L1178.8,482.1 L1179.3,480.5 L1179.7,482.7 L1180.2,479 L1180.6,482.8 L1181.1,480.5 L1181.5,477.3 L1182,478.5 L1182.4,479.5 L1182.9,478.5 L1183.3,479.2 L1183.8,477.5 L1184.2,476.9 L1184.7,479.7 L1185.1,476.5 L1185.6,478.7 L1186,479 L1186.5,477.5 L1186.9,476.4 L1187.4,479.1 L1187.8,475.9 L1188.3,478.3 L1188.7,473.1 L1189.2,475.2 L1189.6,476.2 L1190.1,472.3 L1190.5,477.1 L1191,472.1 L1191.4,475.2 L1191.9,472.4 L1192.3,476.9 L1192.8,474.5 L1193.2,475.8 L1193.7,473.8 L1194.1,474.8 L1194.6,474.8 L1195,472.3 L1195.5,471.7 L1195.9,475.7 L1196.4,471.4 L1196.8,476.4 L1197.3,472.1 L1197.7,471.8 L1198.2,472.2 L1198.6,477.3 L1199.1,479.2 L1199.5,477.2 L1200,479.9 L1200.4,478.8 L1200.9,483.7 L1201.3,483.7 L1201.8,482.1 L1202.2,483 L1202.7,487.8 L1203.1,486.1 L1203.6,491.8 L1204,490.9 L1204.5,492.6 L1204.9,496.2 L1205.4,497.3 L1205.8,500.8 L1206.3,501.8 L1206.7,507.6 L1207.2,508.7 L1207.6,514.3 L1208.1,517 L1208.5,524.4 L1209,531.1 L1209.4,536.7 L1209.9,542.7 L1210.3,549.1 L1210.8,555.1 L1211.2,560.4 L1211.7,567.4 L1212.1,573.6 L1212.6,580.4 L1213,585.7 L1213.5,590.1 L1213.9,593.4 L1214.4,595.2 L1214.8,596.6 L1215.3,596.4 L1215.7,595.3 L1216.2,593.9 L1216.6,590.8 L1217.1,587.3 L1217.5,583.7 L1218,579.9 L1218.4,576.2 L1218.9,572.2 L1219.3,569.1 L1219.8,564.8 L1220.2,561.7 L1220.7,559.7 L1221.1,557 L1221.6,554.6 L1222,553 L1222.5,552.5 L1222.9,552.2 L1223.4,553.2 L1223.8,555 L1224.3,556.1 L1224.7,558.8 L1225.2,560.8 L1225.6,564.9 L1226.1,568.8 L1226.5,571.8 L1227,576.3 L1227.4,580.2 L1227.9,584 L1228.3,588.4 L1228.8,592.4 L1229.2,596.3 L1229.7,600.5 L1230.1,604.2 L1230.6,607.7 L1231,610.4 L1231.5,613.2 L1231.9,616.4 L1232.4,618.1 L1232.8,619.4 L1233.3,620.6 L1233.7,621.6 L1234.2,621.9 L1234.6,620.4 L1235.1,619.3 L1235.5,617.9 L1236,616.9 L1236.4,613.7 L1236.9,611.1 L1237.3,608.1 L1237.8,605.2 L1238.2,602.1 L1238.7,598.1 L1239.1,594.4 L1239.6,591.1 L1240,587 L1240.5,583.4 L1240.9,579.5 L1241.4,575.3 L1241.8,571.1 L1242.3,567.2 L1242.7,564.4 L1243.2,560.2 L1243.6,557.1 L1244.1,553.8 L1244.5,551.1 L1245,549.4 L1245.4,546.7 L1245.9,545.8 L1246.3,545.7 L1246.8,545.3 L1247.2,545 L1247.7,546.9 L1248.1,548.3 L1248.6,549.8 L1249,552.8 L1249.5,556.5 L1249.9,559 L1250.4,562.9 L1250.8,565.5 L1251.3,569.5 L1251.7,572.2 L1252.2,574.9 L1252.6,576.3 L1253.1,577.3 L1253.5,576.6 L1254,575.8 L1254.4,573.4 L1254.9,570 L1255.3,565.3 L1255.8,560.6 L1256.2,556 L1256.7,551.2 L1257.1,547.6 L1257.6,541.2 L1258,536.7 L1258.5,530.6 L1258.9,526 L1259.4,521.5 L1259.8,516.9 L1260.3,510.9 L1260.7,508.2 L1261.2,506.8 L1261.6,505.9 L1262.1,500 L1262.5,500.3 L1263,498.7 L1263.4,497.3 L1263.5,495.4" fill="none" stroke="#000" stroke-width="3.5" stroke-linejoin="round" stroke-linecap="round"/>
<path d="M751.3,728.8 L751.8,725.6 L752.2,720.6 L752.7,720 L753.1,714.4 L753.6,716.8 L754,713.2 L754.5,711.8 L754.9,709.1 L755.4,708.7 L755.8,709.9 L756.3,708.7 L756.7,705.3 L757.2,705.4 L757.6,703.7 L758.1,703.3 L758.5,702.7 L759,702.8 L759.4,705.7 L759.9,705.4 L760.3,703.9 L760.8,701.9 L761.2,701.6 L761.7,702.8 L762.1,703.2 L762.6,702.1 L763,701.2 L763.5,698.5 L763.9,700.6 L764.4,701.5 L764.8,700.9 L765.3,696.8 L765.7,700 L766.2,697.7 L766.6,696.3 L767.1,700.6 L767.5,698.7 L768,698.8 L768.4,694.9 L768.9,698.6 L769.3,698.8 L769.8,698.3 L770.2,696.9 L770.7,697 L771.1,696.4 L771.6,694.7 L772,693.3 L772.5,695.3 L772.9,694.7 L773.4,694.8 L773.8,691 L774.3,694.9 L774.7,692.1 L775.2,694.6 L775.6,689.5 L776.1,695 L776.5,694 L777,691.1 L777.4,695.1 L777.9,691.9 L778.3,692.2 L778.8,694.5 L779.2,693.9 L779.7,696.4 L780.1,699.8 L780.6,699.6 L781,701.3 L781.5,702.2 L781.9,709.6 L782.4,713.4 L782.8,715.5 L783.3,718.8 L783.7,720.2 L784.2,720.5 L784.6,721.3 L785.1,725.4 L785.5,728.1 L786,729 L786.4,732.5 L786.9,736.4 L787.3,740.2 L787.8,742.8 L788.2,749.3 L788.7,754.5 L789.1,761.1 L789.6,768.3 L790,773.8 L790.5,779.5 L790.9,785.2 L791.4,791.3 L791.8,798.3 L792.3,805.4 L792.7,812.4 L793.2,817.8 L793.6,822.6 L794.1,826 L794.5,828.8 L795,830.2 L795.4,831.2 L795.9,830 L796.3,828.7 L796.8,826.5 L797.2,823.9 L797.7,820.6 L798.1,817.9 L798.6,814 L799,810.5 L799.5,807.3 L799.9,803.4 L800.4,799.9 L800.8,796.7 L801.3,793.5 L801.7,790.9 L802.2,787.8 L802.6,785.3 L803.1,784.4 L803.5,782.7 L804,781.8 L804.4,781.6 L804.9,782.8 L805.3,782.9 L805.8,784.8 L806.2,786.5 L806.7,788.7 L807.1,791.5 L807.6,794 L808,797 L808.5,799.5 L808.9,802.5 L809.4,805.4 L809.8,808.6 L810.3,811.5 L810.7,813.8 L811.2,816.3 L811.6,818.3 L812.1,819.5 L812.5,820.6 L813,819.3 L813.4,818.6 L813.9,815.4 L814.3,811.9 L814.8,806.2 L815.2,799.6 L815.7,792.6 L816.1,786 L816.6,780.7 L817,776.3 L817.5,772 L817.9,766.8 L818.4,761.9 L818.8,758.3 L819.3,752.3 L819.7,749.6 L820.2,745.4 L820.6,741.4 L821.1,737.5 L821.5,734.9 L822,732.3 L822.4,729 L822.9,726.6 L823.3,721.9 L823.8,720.9 L824.2,718.3 L824.7,719.9 L825.1,718.1 L825.6,713.6 L826,714.2 L826.5,713 L826.9,709.6 L827.4,710.2 L827.8,711 L828.3,709.8 L828.7,707.3 L829.2,709 L829.6,706.1 L830.1,706.8 L830.5,705.7 L831,708 L831.4,705.9 L831.9,706.3 L832.3,705.2 L832.8,703.4 L833.2,706 L833.7,704.3 L834.1,703.9 L834.6,701.4 L835,700.4 L835.5,702.3 L835.9,703.4 L836.4,702.9 L836.8,700.2 L837.3,698.7 L837.7,700.5 L838.2,702.1 L838.6,697.9 L839.1,700.8 L839.5,697.3 L840,697.8 L840.4,696 L840.9,697 L841.3,697.2 L841.8,700.2 L842.2,699.8 L842.7,695 L843.1,695.4 L843.6,698.8 L844,694.1 L844.5,694.5 L844.9,694.8 L845.4,692.6 L845.8,693.2 L846.3,693.7 L846.7,693.4 L847.2,696.6 L847.6,692.1 L848.1,691.5 L848.5,695.6 L849,692.6 L849.4,694.9 L849.9,693.6 L850.3,694.4 L850.8,691.7 L851.2,690.8 L851.7,694.9 L852.1,693.6 L852.6,695.2 L853,697.5 L853.5,699.9 L853.9,699.1 L854.4,701.2 L854.8,705.8 L855.3,705.5 L855.7,706 L856.2,709.6 L856.6,709.9 L857.1,714.3 L857.5,713.7 L858,719.7 L858.4,721.8 L858.9,724.8 L859.3,731.2 L859.8,734.3 L860.2,740.1 L860.7,745.8 L861.1,752.7 L861.6,758.5 L862,763.6 L862.5,768.9 L862.9,775.1 L863.4,780.9 L863.8,787.4 L864.3,793.9 L864.7,800.2 L865.2,805.3 L865.6,810.7 L866.1,814.7 L866.5,818.3 L867,821.4 L867.4,823.1 L867.9,824.6 L868.3,824.2 L868.8,823.7 L869.2,822.6 L869.7,820.1 L870.1,818 L870.6,815.3 L871,812.1 L871.5,808.9 L871.9,805.8 L872.4,802.2 L872.8,799 L873.3,795.6 L873.7,793 L874.2,790.5 L874.6,788.2 L875.1,786 L875.5,784.9 L876,783.7 L876.4,783.2 L876.9,783.9 L877.3,785.3 L877.8,786.4 L878.2,788.7 L878.7,790.6 L879.1,793.4 L879.6,796.4 L880,799.4 L880.5,802.7 L880.9,805.9 L881.4,809.1 L881.8,812.3 L882.3,815.1 L882.7,817.9 L883.2,820.2 L883.6,822 L884.1,823.2 L884.5,823.8 L885,822.6 L885.4,821.2 L885.9,818.2 L886.3,814.6 L886.8,809.1 L887.2,803.1 L887.7,796.8 L888.1,790.3 L888.6,785.3 L889,780.7 L889.5,776.2 L889.9,771.3 L890.4,767.3 L890.8,761.9 L891.3,758.7 L891.7,753.5 L892.2,748.6 L892.6,745.9 L893.1,741.1 L893.5,738 L894,734.3 L894.4,732.8 L894.9,730.8 L895.3,729.6 L895.8,725.1 L896.2,726.1 L896.7,721.7 L897.1,720.3 L897.6,720 L898,716.9 L898.5,715.2 L898.9,714.9 L899.4,712.4 L899.8,714.1 L900.3,710.6 L900.7,712.8 L901.2,712 L901.6,710.1 L902.1,707 L902.5,710 L903,705.8 L903.4,707.5 L903.9,706.6 L904.3,704.2 L904.8,706.5 L905.2,706.5 L905.7,705.3 L906.1,703.8 L906.6,703.9 L907,703.8 L907.5,701.4 L907.9,704.3 L908.4,704.5 L908.8,703.1 L909.3,703.4 L909.7,699.6 L910.2,702.7 L910.6,697.2 L911.1,699 L911.5,696.6 L912,698 L912.4,698.9 L912.9,698.6 L913.3,696.7 L913.8,695.6 L914.2,694.3 L914.7,695.1 L915.1,694 L915.6,693.1 L916,695.9 L916.5,694.2 L916.9,693.4 L917.4,691.6 L917.8,694.4 L918.3,690.9 L918.7,691.1 L919.2,692.7 L919.6,693.4 L920.1,695 L920.5,693.5 L921,694.6 L921.4,694.5 L921.9,693.3 L922.3,693.3 L922.8,689.4 L923.2,690.5 L923.7,689.6 L924.1,695.3 L924.6,694.8 L925,694.8 L925.5,693.2 L925.9,694.6 L926.4,694.4 L926.8,698.3 L927.3,701.6 L927.7,699.5 L928.2,700.2 L928.6,703.4 L929.1,707.6 L929.5,713.7 L930,717.3 L930.4,720.1 L930.9,723.1 L931.3,727.5 L931.8,732.5 L932.2,739.2 L932.7,743.6 L933.1,749.8 L933.6,754.7 L934,759.4 L934.5,763.9 L934.9,770 L935.4,775 L935.8,781.5 L936.3,788.4 L936.7,794.7 L937.2,800.9 L937.6,806.5 L938.1,811.8 L938.5,817 L939,820.8 L939.4,824.9 L939.9,827 L940.3,828.6 L940.8,830.3 L941.2,829.6 L941.7,829.2 L942.1,828.4 L942.6,825.7 L943,823.3 L943.5,821.1 L943.9,818.2 L944.4,815 L944.8,811.7 L945.3,809 L945.7,805.8 L946.2,802.4 L946.6,799 L947.1,796.9 L947.5,794.1 L948,791.2 L948.4,789.6 L948.9,788.6 L949.3,787.6 L949.8,786.7 L950.2,787.6 L950.7,788 L951.1,789 L951.6,791.5 L952,793.3 L952.5,795.2 L952.9,798.2 L953.4,800.8 L953.8,803.7 L954.3,806.8 L954.7,809.8 L955.2,812.8 L955.6,815.4 L956.1,817.7 L956.5,820 L957,821.6 L957.4,822.2 L957.9,822.7 L958.3,821.6 L958.8,820.2 L959.2,817.1 L959.7,812.9 L960.1,808.1 L960.6,802 L961,795.5 L961.5,789 L961.9,784 L962.4,778.4 L962.8,772.5 L963.3,766.8 L963.7,762 L964.2,754.7 L964.6,749.1 L965.1,744.2 L965.5,739.2 L966,733.8 L966.4,730.1 L966.9,724.1 L967.3,721.1 L967.8,722.1 L968.2,719.7 L968.7,715.4 L969.1,714.5 L969.6,714.5 L970,716.8 L970.5,713 L970.9,714.3 L971.4,714.7 L971.8,712.8 L972.3,713.4 L972.7,709.8 L973.2,708.8 L973.6,707.6 L974.1,710.5 L974.5,706.9 L975,710.5 L975.4,708.8 L975.9,705.8 L976.3,708.4 L976.8,704.7 L977.2,706 L977.7,703.5 L978.1,706.5 L978.6,706.6 L979,706.3 L979.5,701.2 L979.9,705.2 L980.4,703.2 L980.8,704.2 L981.3,702.1 L981.7,702.3 L982.2,701.7 L982.6,702.4 L983.1,698 L983.5,697.5 L984,699.8 L984.4,697.9 L984.9,698.1 L985.3,695.4 L985.8,699.2 L986.2,694.7 L986.7,698.9 L987.1,698.4 L987.6,696 L988,693.7 L988.5,696.5 L988.9,693.6 L989.4,694.6 L989.8,692.5 L990.3,697.5 L990.7,694.8 L991.2,693.5 L991.6,691.9 L992.1,695.6 L992.5,696.3 L993,696.3 L993.4,691.8 L993.9,693.5 L994.3,693.3 L994.8,696.3 L995.2,692.9 L995.7,696.1 L996.1,698.7 L996.6,698.1 L997,694.4 L997.5,695.6 L997.9,696.8 L998.4,701 L998.8,701.5 L999.3,702.3 L999.7,703.3 L1000.2,704.6 L1000.6,707.2 L1001.1,709.3 L1001.5,712.5 L1002,714.1 L1002.4,716.9 L1002.9,720.5 L1003.3,723.6 L1003.8,726.8 L1004.2,728.9 L1004.7,735.5 L1005.1,740.9 L1005.6,745.2 L1006,751.8 L1006.5,757 L1006.9,766.4 L1007.4,776.8 L1007.8,788.1 L1008.3,796.2 L1008.7,801.9 L1009.2,806.6 L1009.6,810.4 L1010.1,813.9 L1010.5,817.6 L1011,821 L1011.4,823.7 L1011.9,826.5 L1012.3,828.4 L1012.8,830.5 L1013.2,831.8 L1013.7,832.7 L1014.1,833.4 L1014.6,833.3 L1015,833.3 L1015.5,832.5 L1015.9,831.1 L1016.4,829.8 L1016.8,828.1 L1017.3,825.1 L1017.7,822.6 L1018.2,819.9 L1018.6,817 L1019.1,813.8 L1019.5,810.5 L1020,807.1 L1020.4,804.4 L1020.9,801 L1021.3,798.1 L1021.8,795 L1022.2,792.5 L1022.7,790.3 L1023.1,787.1 L1023.6,785.7 L1024,784.3 L1024.5,782.8 L1024.9,782.5 L1025.4,782.5 L1025.8,783.3 L1026.3,784.1 L1026.7,786.1 L1027.2,787.3 L1027.6,789.7 L1028.1,792.5 L1028.5,795.6 L1029,798 L1029.4,801.2 L1029.9,804.5 L1030.3,807.2 L1030.8,809.4 L1031.2,811.4 L1031.7,812.7 L1032.1,813.4 L1032.6,812.7 L1033,811.4 L1033.5,808.6 L1033.9,805.1 L1034.4,800.6 L1034.8,795.8 L1035.3,790 L1035.7,785 L1036.2,780.9 L1036.6,775.9 L1037.1,770.5 L1037.5,765 L1038,759.4 L1038.4,754.3 L1038.9,748.7 L1039.3,744 L1039.8,740.2 L1040.2,736.4 L1040.7,734 L1041.1,729.9 L1041.6,726.8 L1042,725.1 L1042.5,724.3 L1042.9,720.8 L1043.4,717.1 L1043.8,717.1 L1044.3,713 L1044.7,711 L1045.2,710.6 L1045.6,710 L1046.1,710.3 L1046.5,708.2 L1047,708.9 L1047.4,705.2 L1047.9,708.7 L1048.3,705.2 L1048.8,707.2 L1049.2,702.7 L1049.7,706.4 L1050.1,702.9 L1050.6,705.8 L1051,705.1 L1051.5,704.1 L1051.9,701.7 L1052.4,699.9 L1052.8,700.4 L1053.3,703.9 L1053.7,699.4 L1054.2,701.7 L1054.6,700.8 L1055.1,700.7 L1055.5,697.5 L1056,696.8 L1056.4,696 L1056.9,700.5 L1057.3,696.5 L1057.8,697.6 L1058.2,696.6 L1058.7,694 L1059.1,692.6 L1059.6,691.9 L1060,696.5 L1060.5,691.8 L1060.9,696.6 L1061.4,692.6 L1061.8,694.6 L1062.3,690.9 L1062.7,694.8 L1063.2,691.4 L1063.6,692.2 L1064.1,693.2 L1064.5,690.8 L1065,691.8 L1065.4,695.4 L1065.9,692.5 L1066.3,693.4 L1066.8,696.1 L1067.2,693.2 L1067.7,693.5 L1068.1,694.2 L1068.6,695.7 L1069,696.3 L1069.5,698.6 L1069.9,698.3 L1070.4,701.5 L1070.8,697.9 L1071.3,702.3 L1071.7,704.6 L1072.2,702.9 L1072.6,703.8 L1073.1,707.9 L1073.5,708.8 L1074,713.1 L1074.4,717.1 L1074.9,717.7 L1075.3,720.9 L1075.8,725.3 L1076.2,727.4 L1076.7,730.8 L1077.1,734.8 L1077.6,737.7 L1078,741.7 L1078.5,746.8 L1078.9,751.8 L1079.4,757.8 L1079.8,763.4 L1080.3,770.1 L1080.7,778.2 L1081.2,786.6 L1081.6,794.3 L1082.1,801.3 L1082.5,807.9 L1083,812.6 L1083.4,817 L1083.9,820 L1084.3,822 L1084.8,823.1 L1085.2,822.5 L1085.7,822.4 L1086.1,820.8 L1086.6,818.5 L1087,816.4 L1087.5,814.3 L1087.9,811.1 L1088.4,808.3 L1088.8,805 L1089.3,802.2 L1089.7,799.2 L1090.2,796.1 L1090.6,793.5 L1091.1,790.9 L1091.5,788.3 L1092,786.6 L1092.4,784.7 L1092.9,783.4 L1093.3,782.3 L1093.8,782.4 L1094.2,783.3 L1094.7,783.8 L1095.1,785.3 L1095.6,787.9 L1096,790.1 L1096.5,792.3 L1096.9,795.5 L1097.4,798.7 L1097.8,801.9 L1098.3,804.8 L1098.7,808.5 L1099.2,811.8 L1099.6,814.6 L1100.1,817.4 L1100.5,819.9 L1101,821.6 L1101.4,822.4 L1101.9,822.9 L1102.3,822.1 L1102.8,820.9 L1103.2,817.4 L1103.7,813.8 L1104.1,808.7 L1104.6,803.2 L1105,796.9 L1105.5,790.6 L1105.9,785.6 L1106.4,780.6 L1106.8,776.4 L1107.3,770.9 L1107.7,766.2 L1108.2,760.3 L1108.6,757.1 L1109.1,751.5 L1109.5,748.3 L1110,745 L1110.4,742.9 L1110.9,738.8 L1111.3,737.3 L1111.8,733.6 L1112.2,729.7 L1112.7,729.3 L1113.1,724.8 L1113.6,725.6 L1114,721.6 L1114.5,718.9 L1114.9,720.2 L1115.4,716 L1115.8,715 L1116.3,713.4 L1116.7,713.7 L1117.2,709.7 L1117.6,710.4 L1118.1,708.6 L1118.5,710.9 L1119,706.3 L1119.4,708.6 L1119.9,706.3 L1120.3,706.7 L1120.8,706.7 L1121.2,707 L1121.7,703.6 L1122.1,703.6 L1122.6,702.5 L1123,706.4 L1123.5,701.7 L1123.9,701.2 L1124.4,702.8 L1124.8,702.7 L1125.3,703.9 L1125.7,699 L1126.2,699.6 L1126.6,698.8 L1127.1,700.7 L1127.5,699.6 L1128,699 L1128.4,701.3 L1128.9,699.7 L1129.3,700.5 L1129.8,700.7 L1130.2,696.4 L1130.7,700 L1131.1,696.6 L1131.6,694.2 L1132,698.9 L1132.5,693.8 L1132.9,693 L1133.4,694.4 L1133.8,694.1 L1134.3,697.8 L1134.7,697 L1135.2,694.1 L1135.6,694.5 L1136.1,696.3 L1136.5,695.8 L1137,694.7 L1137.4,693.7 L1137.9,691.2 L1138.3,691.8 L1138.8,694.3 L1139.2,693.8 L1139.7,695.1 L1140.1,695.8 L1140.6,696.3 L1141,691.7 L1141.5,691.3 L1141.9,696.6 L1142.4,695 L1142.8,693.3 L1143.3,697 L1143.7,695.4 L1144.2,696.4 L1144.6,698.5 L1145.1,701.2 L1145.5,704.2 L1146,704.1 L1146.4,710.8 L1146.9,713.9 L1147.3,716.7 L1147.8,720.6 L1148.2,723.9 L1148.7,723.8 L1149.1,728.3 L1149.6,732.1 L1150,735.7 L1150.5,739.3 L1150.9,742.4 L1151.4,748.8 L1151.8,753.8 L1152.3,758.6 L1152.7,765.4 L1153.2,772.6 L1153.6,778.4 L1154.1,785.1 L1154.5,791.9 L1155,797.6 L1155.4,802.9 L1155.9,808.4 L1156.3,812.5 L1156.8,816.9 L1157.2,820.3 L1157.7,822.2 L1158.1,824.5 L1158.6,825.9 L1159,825.6 L1159.5,825.3 L1159.9,825.1 L1160.4,823.3 L1160.8,821.4 L1161.3,819.3 L1161.7,817.4 L1162.2,814.9 L1162.6,811.9 L1163.1,809.1 L1163.5,806.5 L1164,803.5 L1164.4,800.5 L1164.9,797.8 L1165.3,794.9 L1165.8,793 L1166.2,790.3 L1166.7,788 L1167.1,787.1 L1167.6,785.9 L1168,784.8 L1168.5,784.1 L1168.9,784.8 L1169.4,785.6 L1169.8,786.5 L1170.3,787.9 L1170.7,790.3 L1171.2,791.9 L1171.6,794.4 L1172.1,797.5 L1172.5,800.1 L1173,803.1 L1173.4,806 L1173.9,808.8 L1174.3,811.3 L1174.8,813.7 L1175.2,816.5 L1175.7,818.1 L1176.1,818.9 L1176.6,819.2 L1177,818.2 L1177.5,816 L1177.9,812.6 L1178.4,806 L1178.8,798.3 L1179.3,791 L1179.7,785.6 L1180.2,781.1 L1180.6,776.1 L1181.1,772.1 L1181.5,769.1 L1182,765.2 L1182.4,760.2 L1182.9,756.6 L1183.3,753.2 L1183.8,749.1 L1184.2,745.8 L1184.7,742.4 L1185.1,738.6 L1185.6,734.7 L1186,731.6 L1186.5,728.7 L1186.9,725.3 L1187.4,724.4 L1187.8,722.3 L1188.3,718.4 L1188.7,718.7 L1189.2,716.9 L1189.6,713.8 L1190.1,713.2 L1190.5,710.8 L1191,713.1 L1191.4,710.6 L1191.9,707.4 L1192.3,707.1 L1192.8,709 L1193.2,706.9 L1193.7,708 L1194.1,705.1 L1194.6,707.5 L1195,707 L1195.5,703 L1195.9,705.1 L1196.4,702.7 L1196.8,704.9 L1197.3,705 L1197.7,704.6 L1198.2,701.3 L1198.6,700.1 L1199.1,702.8 L1199.5,701.9 L1200,699.2 L1200.4,699.1 L1200.9,700.9 L1201.3,698 L1201.8,700.5 L1202.2,698 L1202.7,697.8 L1203.1,698.4 L1203.6,698.7 L1204,699.4 L1204.5,695.2 L1204.9,698.8 L1205.4,695.7 L1205.8,695.8 L1206.3,697.6 L1206.7,697.6 L1207.2,696.9 L1207.6,698.3 L1208.1,694 L1208.5,694.5 L1209,696.3 L1209.4,693.7 L1209.9,693 L1210.3,693.3 L1210.8,696.5 L1211.2,696.7 L1211.7,696 L1212.1,697.6 L1212.6,696.6 L1213,693.8 L1213.5,694.1 L1213.9,696.8 L1214.4,693.2 L1214.8,697 L1215.3,694.5 L1215.7,695.1 L1216.2,698.5 L1216.6,697.6 L1217.1,703 L1217.5,704 L1218,703.1 L1218.4,703.3 L1218.9,704.9 L1219.3,708.9 L1219.8,711.6 L1220.2,714.1 L1220.7,719 L1221.1,722 L1221.6,726.8 L1222,728.8 L1222.5,733.8 L1222.9,740.1 L1223.4,745.8 L1223.8,750.6 L1224.3,756.4 L1224.7,760.4 L1225.2,765.5 L1225.6,770.9 L1226.1,776.4 L1226.5,782.3 L1227,787.8 L1227.4,793.5 L1227.9,799.4 L1228.3,804.8 L1228.8,809.5 L1229.2,814 L1229.7,818.5 L1230.1,822 L1230.6,825.3 L1231,827.8 L1231.5,829.9 L1231.9,831.5 L1232.4,832 L1232.8,831.6 L1233.3,831.1 L1233.7,830.3 L1234.2,828.2 L1234.6,826.4 L1235.1,824.3 L1235.5,821.9 L1236,818.9 L1236.4,816.2 L1236.9,813.2 L1237.3,810.7 L1237.8,807.3 L1238.2,804.4 L1238.7,801.7 L1239.1,798.5 L1239.6,795.9 L1240,793.3 L1240.5,790.8 L1240.9,789.4 L1241.4,788.2 L1241.8,786.3 L1242.3,785.5 L1242.7,786.3 L1243.2,786.4 L1243.6,787.1 L1244.1,788.7 L1244.5,790.5 L1245,793 L1245.4,795.1 L1245.9,797.9 L1246.3,800.9 L1246.8,803.9 L1247.2,806.7 L1247.7,808.9 L1248.1,811.5 L1248.6,812.9 L1249,813.7 L1249.5,814.1 L1249.9,813.3 L1250.4,812 L1250.8,809.3 L1251.3,806.4 L1251.7,803.1 L1252.2,798.3 L1252.6,794.1 L1253.1,789.1 L1253.5,784.6 L1254,780.4 L1254.4,776.5 L1254.9,772.7 L1255.3,767 L1255.8,763.2 L1256.2,757.5 L1256.7,752.6 L1257.1,749.3 L1257.6,744.3 L1258,740.1 L1258.5,736.9 L1258.9,734.5 L1259.4,731.3 L1259.8,727.1 L1260.3,721.9 L1260.7,721.8 L1261.2,718.7 L1261.6,717.9 L1262.1,716.7 L1262.5,712.9 L1263,714.4 L1263.4,713.4 L1263.5,711.8" fill="none" stroke="#000" stroke-width="3.5" stroke-linejoin="round" stroke-linecap="round"/>
<path d="M751,942.5 L751.5,938.3 L752,934.3 L752.5,930.6 L753,927.1 L753.5,923.9 L754,921 L754.5,918.5 L755,916.2 L755.5,914.4 L756,912.8 L756.5,911.7 L757,910.9 L757.5,910.5 L758,910.4 L758.5,910.9 L759,912 L759.5,913.6 L760,915.7 L760.5,918.3 L761,921.4 L761.5,925 L762,929 L762.5,933.4 L763,938.2 L763.5,943.3 L764,948.8 L764.5,954.4 L765,960.3 L765.5,966.3 L766,972.5 L766.5,978.7 L767,985 L767.5,991.2 L768,997.4 L768.5,1003.5 L769,1009.4 L769.5,1015.1 L770,1020.6 L770.5,1025.9 L771,1030.9 L771.5,1035.5 L772,1039.9 L772.5,1043.8 L773,1047.4 L773.5,1048.3 L774,1045.5 L774.5,1042.3 L775,1039 L775.5,1035.4 L776,1031.5 L776.5,1027.5 L777,1023.2 L777.5,1018.7 L778,1014.1 L778.5,1009.4 L779,1004.5 L779.5,999.5 L780,994.4 L780.5,989.3 L781,984.1 L781.5,978.9 L782,973.8 L782.5,968.7 L783,963.6 L783.5,958.7 L784,953.8 L784.5,949.2 L785,944.6 L785.5,940.3 L786,936.2 L786.5,932.4 L787,928.8 L787.5,925.4 L788,922.4 L788.5,919.7 L789,917.3 L789.5,915.2 L790,913.5 L790.5,912.2 L791,911.2 L791.5,910.6 L792,910.4 L792.5,910.6 L793,911.4 L793.5,912.7 L794,914.6 L794.5,917 L795,919.9 L795.5,923.2 L796,927 L796.5,931.3 L797,935.9 L797.5,940.8 L798,946.1 L798.5,951.7 L799,957.5 L799.5,963.4 L800,969.5 L800.5,975.7 L801,982 L801.5,988.2 L802,994.4 L802.5,1000.6 L803,1006.6 L803.5,1012.4 L804,1018 L804.5,1023.4 L805,1028.5 L805.5,1033.3 L806,1037.8 L806.5,1042 L807,1045.7 L807.5,1049.1 L808,1046.9 L808.5,1043.9 L809,1040.6 L809.5,1037.1 L810,1033.4 L810.5,1029.4 L811,1025.3 L811.5,1020.9 L812,1016.4 L812.5,1011.7 L813,1006.8 L813.5,1001.9 L814,996.9 L814.5,991.7 L815,986.6 L815.5,981.4 L816,976.3 L816.5,971.1 L817,966 L817.5,961 L818,956.1 L818.5,951.4 L819,946.8 L819.5,942.4 L820,938.2 L820.5,934.2 L821,930.4 L821.5,927 L822,923.8 L822.5,920.9 L823,918.4 L823.5,916.2 L824,914.3 L824.5,912.8 L825,911.6 L825.5,910.9 L826,910.5 L826.5,910.5 L827,911 L827.5,912 L828,913.6 L828.5,915.8 L829,918.4 L829.5,921.6 L830,925.2 L830.5,929.2 L831,933.6 L831.5,938.4 L832,943.6 L832.5,949 L833,954.7 L833.5,960.5 L834,966.6 L834.5,972.7 L835,979 L835.5,985.2 L836,991.5 L836.5,997.6 L837,1003.7 L837.5,1009.6 L838,1015.3 L838.5,1020.8 L839,1026.1 L839.5,1031.1 L840,1035.7 L840.5,1040 L841,1044 L841.5,1047.6 L842,1048.2 L842.5,1045.3 L843,1042.2 L843.5,1038.8 L844,1035.2 L844.5,1031.4 L845,1027.3 L845.5,1023 L846,1018.6 L846.5,1013.9 L847,1009.2 L847.5,1004.3 L848,999.3 L848.5,994.2 L849,989.1 L849.5,983.9 L850,978.7 L850.5,973.6 L851,968.5 L851.5,963.4 L852,958.5 L852.5,953.7 L853,949 L853.5,944.5 L854,940.2 L854.5,936.1 L855,932.2 L855.5,928.6 L856,925.3 L856.5,922.3 L857,919.6 L857.5,917.2 L858,915.2 L858.5,913.5 L859,912.1 L859.5,911.2 L860,910.6 L860.5,910.4 L861,910.7 L861.5,911.5 L862,912.8 L862.5,914.7 L863,917.1 L863.5,920 L864,923.4 L864.5,927.2 L865,931.4 L865.5,936.1 L866,941.1 L866.5,946.3 L867,951.9 L867.5,957.7 L868,963.7 L868.5,969.8 L869,976 L869.5,982.2 L870,988.5 L870.5,994.7 L871,1000.8 L871.5,1006.8 L872,1012.6 L872.5,1018.2 L873,1023.6 L873.5,1028.7 L874,1033.5 L874.5,1038 L875,1042.1 L875.5,1045.9 L876,1049.3 L876.5,1046.8 L877,1043.8 L877.5,1040.5 L878,1037 L878.5,1033.2 L879,1029.3 L879.5,1025.1 L880,1020.7 L880.5,1016.2 L881,1011.5 L881.5,1006.6 L882,1001.7 L882.5,996.6 L883,991.5 L883.5,986.4 L884,981.2 L884.5,976 L885,970.9 L885.5,965.8 L886,960.8 L886.5,956 L887,951.2 L887.5,946.6 L888,942.2 L888.5,938 L889,934 L889.5,930.3 L890,926.9 L890.5,923.7 L891,920.8 L891.5,918.3 L892,916.1 L892.5,914.2 L893,912.7 L893.5,911.6 L894,910.8 L894.5,910.5 L895,910.5 L895.5,911 L896,912.1 L896.5,913.7 L897,915.9 L897.5,918.5 L898,921.7 L898.5,925.3 L899,929.4 L899.5,933.8 L900,938.6 L900.5,943.8 L901,949.2 L901.5,954.9 L902,960.8 L902.5,966.8 L903,973 L903.5,979.2 L904,985.5 L904.5,991.7 L905,997.9 L905.5,1003.9 L906,1009.8 L906.5,1015.6 L907,1021.1 L907.5,1026.3 L908,1031.3 L908.5,1035.9 L909,1040.2 L909.5,1044.1 L910,1047.7 L910.5,1048.1 L911,1045.2 L911.5,1042.1 L912,1038.7 L912.5,1035.1 L913,1031.2 L913.5,1027.1 L914,1022.8 L914.5,1018.4 L915,1013.8 L915.5,1009 L916,1004.1 L916.5,999.1 L917,994 L917.5,988.9 L918,983.7 L918.5,978.5 L919,973.4 L919.5,968.3 L920,963.2 L920.5,958.3 L921,953.5 L921.5,948.8 L922,944.3 L922.5,940 L923,935.9 L923.5,932.1 L924,928.5 L924.5,925.2 L925,922.2 L925.5,919.5 L926,917.1 L926.5,915.1 L927,913.4 L927.5,912.1 L928,911.2 L928.5,910.6 L929,910.4 L929.5,910.7 L930,911.5 L930.5,912.9 L931,914.8 L931.5,917.2 L932,920.1 L932.5,923.5 L933,927.4 L933.5,931.6 L934,936.3 L934.5,941.3 L935,946.6 L935.5,952.1 L936,957.9 L936.5,963.9 L937,970 L937.5,976.2 L938,982.5 L938.5,988.7 L939,994.9 L939.5,1001 L940,1007 L940.5,1012.8 L941,1018.5 L941.5,1023.8 L942,1028.9 L942.5,1033.7 L943,1038.2 L943.5,1042.3 L944,1046 L944.5,1049.4 L945,1046.6 L945.5,1043.6 L946,1040.4 L946.5,1036.8 L947,1033.1 L947.5,1029.1 L948,1024.9 L948.5,1020.5 L949,1016 L949.5,1011.3 L950,1006.4 L950.5,1001.5 L951,996.4 L951.5,991.3 L952,986.2 L952.5,981 L953,975.8 L953.5,970.7 L954,965.6 L954.5,960.6 L955,955.8 L955.5,951 L956,946.4 L956.5,942 L957,937.8 L957.5,933.9 L958,930.2 L958.5,926.7 L959,923.6 L959.5,920.7 L960,918.2 L960.5,916 L961,914.2 L961.5,912.7 L962,911.6 L962.5,910.8 L963,910.4 L963.5,910.5 L964,911 L964.5,912.1 L965,913.8 L965.5,916 L966,918.7 L966.5,921.8 L967,925.5 L967.5,929.5 L968,934 L968.5,938.8 L969,944 L969.5,949.4 L970,955.1 L970.5,961 L971,967.1 L971.5,973.2 L972,979.5 L972.5,985.7 L973,992 L973.5,998.1 L974,1004.2 L974.5,1010.1 L975,1015.8 L975.5,1021.3 L976,1026.5 L976.5,1031.5 L977,1036.1 L977.5,1040.4 L978,1044.3 L978.5,1047.8 L979,1048 L979.5,1045.1 L980,1042 L980.5,1038.6 L981,1034.9 L981.5,1031 L982,1027 L982.5,1022.7 L983,1018.2 L983.5,1013.6 L984,1008.8 L984.5,1003.9 L985,998.9 L985.5,993.8 L986,988.7 L986.5,983.5 L987,978.3 L987.5,973.2 L988,968.1 L988.5,963 L989,958.1 L989.5,953.3 L990,948.6 L990.5,944.1 L991,939.8 L991.5,935.7 L992,931.9 L992.5,928.3 L993,925 L993.5,922 L994,919.4 L994.5,917 L995,915 L995.5,913.3 L996,912.1 L996.5,911.1 L997,910.6 L997.5,910.4 L998,910.7 L998.5,911.5 L999,912.9 L999.5,914.9 L1000,917.3 L1000.5,920.2 L1001,923.7 L1001.5,927.5 L1002,931.8 L1002.5,936.5 L1003,941.5 L1003.5,946.8 L1004,952.4 L1004.5,958.2 L1005,964.1 L1005.5,970.3 L1006,976.5 L1006.5,982.7 L1007,989 L1007.5,995.2 L1008,1001.3 L1008.5,1007.3 L1009,1013.1 L1009.5,1018.7 L1010,1024 L1010.5,1029.1 L1011,1033.9 L1011.5,1038.3 L1012,1042.4 L1012.5,1046.2 L1013,1049.3 L1013.5,1046.5 L1014,1043.5 L1014.5,1040.2 L1015,1036.7 L1015.5,1032.9 L1016,1028.9 L1016.5,1024.7 L1017,1020.4 L1017.5,1015.8 L1018,1011.1 L1018.5,1006.2 L1019,1001.3 L1019.5,996.2 L1020,991.1 L1020.5,986 L1021,980.8 L1021.5,975.6 L1022,970.5 L1022.5,965.4 L1023,960.4 L1023.5,955.6 L1024,950.8 L1024.5,946.3 L1025,941.9 L1025.5,937.7 L1026,933.7 L1026.5,930 L1027,926.6 L1027.5,923.4 L1028,920.6 L1028.5,918.1 L1029,915.9 L1029.5,914.1 L1030,912.6 L1030.5,911.5 L1031,910.8 L1031.5,910.4 L1032,910.5 L1032.5,911.1 L1033,912.2 L1033.5,913.9 L1034,916.1 L1034.5,918.8 L1035,922 L1035.5,925.6 L1036,929.7 L1036.5,934.2 L1037,939 L1037.5,944.2 L1038,949.6 L1038.5,955.4 L1039,961.3 L1039.5,967.3 L1040,973.5 L1040.5,979.7 L1041,986 L1041.5,992.2 L1042,998.4 L1042.5,1004.4 L1043,1010.3 L1043.5,1016 L1044,1021.5 L1044.5,1026.7 L1045,1031.6 L1045.5,1036.3 L1046,1040.5 L1046.5,1044.4 L1047,1048 L1047.5,1047.9 L1048,1045 L1048.5,1041.8 L1049,1038.4 L1049.5,1034.8 L1050,1030.9 L1050.5,1026.8 L1051,1022.5 L1051.5,1018 L1052,1013.4 L1052.5,1008.6 L1053,1003.7 L1053.5,998.7 L1054,993.6 L1054.5,988.5 L1055,983.3 L1055.5,978.1 L1056,973 L1056.5,967.9 L1057,962.8 L1057.5,957.9 L1058,953.1 L1058.5,948.4 L1059,943.9 L1059.5,939.7 L1060,935.6 L1060.5,931.8 L1061,928.2 L1061.5,924.9 L1062,921.9 L1062.5,919.3 L1063,916.9 L1063.5,914.9 L1064,913.3 L1064.5,912 L1065,911.1 L1065.5,910.6 L1066,910.4 L1066.5,910.7 L1067,911.6 L1067.5,913 L1068,915 L1068.5,917.4 L1069,920.4 L1069.5,923.8 L1070,927.7 L1070.5,932 L1071,936.7 L1071.5,941.7 L1072,947 L1072.5,952.6 L1073,958.4 L1073.5,964.4 L1074,970.5 L1074.5,976.7 L1075,983 L1075.5,989.2 L1076,995.4 L1076.5,1001.5 L1077,1007.5 L1077.5,1013.3 L1078,1018.9 L1078.5,1024.2 L1079,1029.3 L1079.5,1034.1 L1080,1038.5 L1080.5,1042.6 L1081,1046.3 L1081.5,1049.2 L1082,1046.4 L1082.5,1043.4 L1083,1040.1 L1083.5,1036.5 L1084,1032.8 L1084.5,1028.8 L1085,1024.6 L1085.5,1020.2 L1086,1015.6 L1086.5,1010.9 L1087,1006.1 L1087.5,1001.1 L1088,996 L1088.5,990.9 L1089,985.8 L1089.5,980.6 L1090,975.4 L1090.5,970.3 L1091,965.2 L1091.5,960.2 L1092,955.4 L1092.5,950.6 L1093,946.1 L1093.5,941.7 L1094,937.5 L1094.5,933.6 L1095,929.9 L1095.5,926.5 L1096,923.3 L1096.5,920.5 L1097,918 L1097.5,915.8 L1098,914 L1098.5,912.6 L1099,911.5 L1099.5,910.8 L1100,910.4 L1100.5,910.5 L1101,911.1 L1101.5,912.3 L1102,914 L1102.5,916.2 L1103,918.9 L1103.5,922.1 L1104,925.8 L1104.5,929.9 L1105,934.4 L1105.5,939.2 L1106,944.4 L1106.5,949.9 L1107,955.6 L1107.5,961.5 L1108,967.6 L1108.5,973.7 L1109,980 L1109.5,986.2 L1110,992.4 L1110.5,998.6 L1111,1004.6 L1111.5,1010.5 L1112,1016.2 L1112.5,1021.7 L1113,1026.9 L1113.5,1031.8 L1114,1036.4 L1114.5,1040.7 L1115,1044.6 L1115.5,1048.1 L1116,1047.8 L1116.5,1044.9 L1117,1041.7 L1117.5,1038.3 L1118,1034.6 L1118.5,1030.7 L1119,1026.6 L1119.5,1022.3 L1120,1017.8 L1120.5,1013.2 L1121,1008.4 L1121.5,1003.5 L1122,998.5 L1122.5,993.4 L1123,988.2 L1123.5,983.1 L1124,977.9 L1124.5,972.8 L1125,967.7 L1125.5,962.6 L1126,957.7 L1126.5,952.9 L1127,948.2 L1127.5,943.8 L1128,939.5 L1128.5,935.4 L1129,931.6 L1129.5,928.1 L1130,924.8 L1130.5,921.8 L1131,919.2 L1131.5,916.8 L1132,914.9 L1132.5,913.2 L1133,912 L1133.5,911.1 L1134,910.5 L1134.5,910.4 L1135,910.7 L1135.5,911.6 L1136,913.1 L1136.5,915 L1137,917.5 L1137.5,920.5 L1138,924 L1138.5,927.8 L1139,932.2 L1139.5,936.8 L1140,941.9 L1140.5,947.2 L1141,952.8 L1141.5,958.6 L1142,964.6 L1142.5,970.8 L1143,977 L1143.5,983.2 L1144,989.5 L1144.5,995.7 L1145,1001.8 L1145.5,1007.7 L1146,1013.5 L1146.5,1019.1 L1147,1024.4 L1147.5,1029.5 L1148,1034.3 L1148.5,1038.7 L1149,1042.8 L1149.5,1046.5 L1150,1049.1 L1150.5,1046.3 L1151,1043.2 L1151.5,1039.9 L1152,1036.4 L1152.5,1032.6 L1153,1028.6 L1153.5,1024.4 L1154,1020 L1154.5,1015.4 L1155,1010.7 L1155.5,1005.9 L1156,1000.9 L1156.5,995.8 L1157,990.7 L1157.5,985.6 L1158,980.4 L1158.5,975.2 L1159,970.1 L1159.5,965 L1160,960.1 L1160.5,955.2 L1161,950.5 L1161.5,945.9 L1162,941.5 L1162.5,937.3 L1163,933.4 L1163.5,929.7 L1164,926.3 L1164.5,923.2 L1165,920.4 L1165.5,917.9 L1166,915.8 L1166.5,914 L1167,912.5 L1167.5,911.5 L1168,910.7 L1168.5,910.4 L1169,910.5 L1169.5,911.1 L1170,912.3 L1170.5,914 L1171,916.3 L1171.5,919 L1172,922.2 L1172.5,925.9 L1173,930 L1173.5,934.6 L1174,939.4 L1174.5,944.6 L1175,950.1 L1175.5,955.8 L1176,961.7 L1176.5,967.8 L1177,974 L1177.5,980.2 L1178,986.5 L1178.5,992.7 L1179,998.8 L1179.5,1004.9 L1180,1010.8 L1180.5,1016.5 L1181,1021.9 L1181.5,1027.1 L1182,1032 L1182.5,1036.6 L1183,1040.8 L1183.5,1044.7 L1184,1048.2 L1184.5,1047.7 L1185,1044.7 L1185.5,1041.6 L1186,1038.1 L1186.5,1034.5 L1187,1030.6 L1187.5,1026.4 L1188,1022.1 L1188.5,1017.6 L1189,1013 L1189.5,1008.2 L1190,1003.3 L1190.5,998.3 L1191,993.2 L1191.5,988 L1192,982.9 L1192.5,977.7 L1193,972.6 L1193.5,967.5 L1194,962.4 L1194.5,957.5 L1195,952.7 L1195.5,948.1 L1196,943.6 L1196.5,939.3 L1197,935.3 L1197.5,931.5 L1198,927.9 L1198.5,924.7 L1199,921.7 L1199.5,919.1 L1200,916.8 L1200.5,914.8 L1201,913.2 L1201.5,911.9 L1202,911 L1202.5,910.5 L1203,910.4 L1203.5,910.8 L1204,911.7 L1204.5,913.1 L1205,915.1 L1205.5,917.6 L1206,920.6 L1206.5,924.1 L1207,928 L1207.5,932.3 L1208,937 L1208.5,942.1 L1209,947.4 L1209.5,953 L1210,958.9 L1210.5,964.9 L1211,971 L1211.5,977.2 L1212,983.5 L1212.5,989.7 L1213,995.9 L1213.5,1002 L1214,1008 L1214.5,1013.8 L1215,1019.3 L1215.5,1024.7 L1216,1029.7 L1216.5,1034.4 L1217,1038.9 L1217.5,1042.9 L1218,1046.6 L1218.5,1049 L1219,1046.2 L1219.5,1043.1 L1220,1039.8 L1220.5,1036.2 L1221,1032.5 L1221.5,1028.4 L1222,1024.2 L1222.5,1019.8 L1223,1015.2 L1223.5,1010.5 L1224,1005.7 L1224.5,1000.7 L1225,995.6 L1225.5,990.5 L1226,985.4 L1226.5,980.2 L1227,975 L1227.5,969.9 L1228,964.8 L1228.5,959.9 L1229,955 L1229.5,950.3 L1230,945.7 L1230.5,941.3 L1231,937.2 L1231.5,933.3 L1232,929.6 L1232.5,926.2 L1233,923.1 L1233.5,920.3 L1234,917.8 L1234.5,915.7 L1235,913.9 L1235.5,912.5 L1236,911.4 L1236.5,910.7 L1237,910.4 L1237.5,910.5 L1238,911.2 L1238.5,912.4 L1239,914.1 L1239.5,916.4 L1240,919.1 L1240.5,922.4 L1241,926.1 L1241.5,930.2 L1242,934.7 L1242.5,939.6 L1243,944.8 L1243.5,950.3 L1244,956 L1244.5,962 L1245,968 L1245.5,974.2 L1246,980.5 L1246.5,986.7 L1247,992.9 L1247.5,999.1 L1248,1005.1 L1248.5,1011 L1249,1016.7 L1249.5,1022.1 L1250,1027.3 L1250.5,1032.2 L1251,1036.8 L1251.5,1041 L1252,1044.9 L1252.5,1048.4 L1253,1047.6 L1253.5,1044.6 L1254,1041.4 L1254.5,1038 L1255,1034.3 L1255.5,1030.4 L1256,1026.3 L1256.5,1022 L1257,1017.5 L1257.5,1012.8 L1258,1008 L1258.5,1003.1 L1259,998.1 L1259.5,993 L1260,987.8 L1260.5,982.7 L1261,977.5 L1261.5,972.3 L1262,967.2 L1262.5,962.2 L1263,957.3 L1263.5,952.5 L1264,947.9" fill="none" stroke="#000" stroke-width="3.5" stroke-linejoin="round" stroke-linecap="round"/>
<rect x="749.7" y="7.8" width="516" height="1102.7" fill="none" stroke="#000" stroke-width="3.4"/>
<line x1="749.7" y1="228.6" x2="1265.7" y2="228.6" stroke="#000" stroke-width="3.4"/>
<line x1="749.7" y1="449.5" x2="1265.7" y2="449.5" stroke="#000" stroke-width="3.4"/>
<line x1="749.7" y1="670.2" x2="1265.7" y2="670.2" stroke="#000" stroke-width="3.4"/>
<line x1="749.7" y1="890.3" x2="1265.7" y2="890.3" stroke="#000" stroke-width="3.4"/>
<line x1="749.7" y1="91.0" x2="770.5" y2="91.0" stroke="#000" stroke-width="3.2"/>
<line x1="749.7" y1="200.9" x2="761" y2="200.9" stroke="#000" stroke-width="3.2" stroke-linecap="round"/>
<line x1="1244.5" y1="91.0" x2="1265.7" y2="91.0" stroke="#000" stroke-width="3.2"/>
<line x1="1254.5" y1="200.9" x2="1265.7" y2="200.9" stroke="#000" stroke-width="3.2" stroke-linecap="round"/>
<line x1="1007.6" y1="228.6" x2="1007.6" y2="217.1" stroke="#000" stroke-width="3.4" stroke-linecap="round"/>
<line x1="749.7" y1="308.5" x2="770.5" y2="308.5" stroke="#000" stroke-width="3.2"/>
<line x1="749.7" y1="418.7" x2="761" y2="418.7" stroke="#000" stroke-width="3.2" stroke-linecap="round"/>
<line x1="1244.5" y1="308.5" x2="1265.7" y2="308.5" stroke="#000" stroke-width="3.2"/>
<line x1="1254.5" y1="418.7" x2="1265.7" y2="418.7" stroke="#000" stroke-width="3.2" stroke-linecap="round"/>
<line x1="1007.6" y1="449.5" x2="1007.6" y2="438" stroke="#000" stroke-width="3.4" stroke-linecap="round"/>
<line x1="749.7" y1="534.8" x2="770.5" y2="534.8" stroke="#000" stroke-width="3.2"/>
<line x1="749.7" y1="645.0" x2="761" y2="645.0" stroke="#000" stroke-width="3.2" stroke-linecap="round"/>
<line x1="1244.5" y1="534.8" x2="1265.7" y2="534.8" stroke="#000" stroke-width="3.2"/>
<line x1="1254.5" y1="645.0" x2="1265.7" y2="645.0" stroke="#000" stroke-width="3.2" stroke-linecap="round"/>
<line x1="1007.6" y1="670.2" x2="1007.6" y2="658.7" stroke="#000" stroke-width="3.4" stroke-linecap="round"/>
<line x1="749.7" y1="752.9" x2="770.5" y2="752.9" stroke="#000" stroke-width="3.2"/>
<line x1="749.7" y1="862.7" x2="761" y2="862.7" stroke="#000" stroke-width="3.2" stroke-linecap="round"/>
<line x1="1244.5" y1="752.9" x2="1265.7" y2="752.9" stroke="#000" stroke-width="3.2"/>
<line x1="1254.5" y1="862.7" x2="1265.7" y2="862.7" stroke="#000" stroke-width="3.2" stroke-linecap="round"/>
<line x1="1007.6" y1="890.3" x2="1007.6" y2="878.8" stroke="#000" stroke-width="3.4" stroke-linecap="round"/>
<line x1="749.7" y1="972.7" x2="770.5" y2="972.7" stroke="#000" stroke-width="3.2"/>
<line x1="749.7" y1="1081.5" x2="761" y2="1081.5" stroke="#000" stroke-width="3.2" stroke-linecap="round"/>
<line x1="1244.5" y1="972.7" x2="1265.7" y2="972.7" stroke="#000" stroke-width="3.2"/>
<line x1="1254.5" y1="1081.5" x2="1265.7" y2="1081.5" stroke="#000" stroke-width="3.2" stroke-linecap="round"/>
<line x1="1007.6" y1="1110.5" x2="1007.6" y2="1099" stroke="#000" stroke-width="3.4" stroke-linecap="round"/>
<line x1="1007.6" y1="7.8" x2="1007.6" y2="18.5" stroke="#000" stroke-width="3.4" stroke-linecap="round"/>
<text x="775" y="211.0" font-family="Liberation Sans, sans-serif" font-size="36.3" textLength="84.5" lengthAdjust="spacingAndGlyphs">n = 5</text>
<text x="774.5" y="428.7" font-family="Liberation Sans, sans-serif" font-size="36.3" textLength="84.5" lengthAdjust="spacingAndGlyphs">n = 4</text>
<text x="775" y="654.1" font-family="Liberation Sans, sans-serif" font-size="36.3" textLength="84.5" lengthAdjust="spacingAndGlyphs">n = 3</text>
<text x="775" y="866.9" font-family="Liberation Sans, sans-serif" font-size="36.3" textLength="84.5" lengthAdjust="spacingAndGlyphs">n = 2</text>
<text x="770.5" y="1091.4" font-family="Liberation Sans, sans-serif" font-size="42" textLength="96" lengthAdjust="spacingAndGlyphs">n = 1</text>
<text x="1240.5" y="212.0" font-family="Liberation Sans, sans-serif" font-size="37.5" text-anchor="end">33 MHz</text>
<text x="1240.5" y="431.1" font-family="Liberation Sans, sans-serif" font-size="37.5" text-anchor="end">40 MHz</text>
<text x="1240.5" y="651.1" font-family="Liberation Sans, sans-serif" font-size="37.5" text-anchor="end">50 MHz</text>
<text x="1240.5" y="871.1" font-family="Liberation Sans, sans-serif" font-size="37.5" text-anchor="end">70 MHz</text>
<text x="1249" y="1091.6" font-family="Liberation Sans, sans-serif" font-size="37.5" text-anchor="end">150 MHz</text>
<text transform="translate(756.8,65.2) scale(0.953,1)" font-family="Liberation Sans, sans-serif" font-size="52.65" font-weight="bold">b</text>
<text transform="translate(789.8,64.0) scale(0.796,1)" font-family="Liberation Sans, sans-serif" font-size="52.6" font-weight="bold">)</text>
<line x1="955" y1="57.7" x2="989" y2="57.7" stroke="#000" stroke-width="3"/>
<polygon points="944,57.7 959.5,50.5 959.5,64.9" fill="#000"/>
<polygon points="1000,57.7 984.5,50.5 984.5,64.9" fill="#000"/>
<text transform="translate(948.4,96.3) scale(1.22,1)" font-family="Liberation Sans, sans-serif" font-size="38.8">t</text>
<text transform="translate(962.7,106) scale(0.94,1)" font-family="Liberation Sans, sans-serif" font-size="24.8">QU</text>
<text x="749.2" y="1167.8" font-family="Liberation Sans, sans-serif" font-size="47.8" text-anchor="middle">0</text>
<text x="1266" y="1168.6" font-family="Liberation Sans, sans-serif" font-size="47" text-anchor="middle">100</text>
<text x="864.8" y="1226.5" font-family="Liberation Sans, sans-serif" font-size="67.8">time (ns)</text>
<text transform="translate(683.3,559.3) rotate(-90)" font-family="Liberation Sans, sans-serif" font-size="68.6" text-anchor="middle">Voltage</text>
<circle cx="1401.5" cy="112.9" r="92.9" fill="none" stroke="#000" stroke-width="3.8"/>
<circle cx="1399" cy="335" r="92.9" fill="none" stroke="#000" stroke-width="3.8"/>
<circle cx="1401" cy="557.6" r="92.4" fill="none" stroke="#000" stroke-width="3.8"/>
<circle cx="1395" cy="780.5" r="92.2" fill="none" stroke="#000" stroke-width="3.8"/>
<circle cx="1395" cy="998.5" r="92.4" fill="none" stroke="#000" stroke-width="3.8"/>
<ellipse cx="1377" cy="106.4" rx="65.4" ry="65.5" fill="none" stroke="#000" stroke-width="1.8"/>
<ellipse cx="1376.3" cy="110" rx="49.7" ry="50" fill="none" stroke="#000" stroke-width="1.8"/>
<ellipse cx="1366.3" cy="113.4" rx="33.8" ry="40" fill="none" stroke="#000" stroke-width="1.8"/>
<ellipse cx="1354.6" cy="113.8" rx="19.6" ry="33" fill="none" stroke="#000" stroke-width="1.8"/>
<ellipse cx="1335.5" cy="112.6" rx="18" ry="27.5" fill="none" stroke="#000" stroke-width="1.8"/>
<path d="M1315,133.4 L1317,131.5 L1328.4,140 L1340,145" fill="none" stroke="#000" stroke-width="1.8"/>
<ellipse cx="1375.9" cy="328.8" rx="67.6" ry="66.3" fill="none" stroke="#000" stroke-width="1.8"/>
<ellipse cx="1375.5" cy="333.4" rx="48" ry="51" fill="none" stroke="#000" stroke-width="1.8"/>
<ellipse cx="1359.7" cy="336.3" rx="30.5" ry="41.3" fill="none" stroke="#000" stroke-width="1.8"/>
<ellipse cx="1339.3" cy="335.5" rx="23.4" ry="34.6" fill="none" stroke="#000" stroke-width="1.8"/>
<path d="M1315.9,368.4 L1318,366.5 L1330,369 L1345,374" fill="none" stroke="#000" stroke-width="1.8"/>
<ellipse cx="1377.5" cy="547.6" rx="67.5" ry="67.5" fill="none" stroke="#000" stroke-width="1.8"/>
<ellipse cx="1371.3" cy="554.6" rx="43.8" ry="52" fill="none" stroke="#000" stroke-width="1.8"/>
<ellipse cx="1346.7" cy="555.4" rx="30" ry="43" fill="none" stroke="#000" stroke-width="1.8"/>
<path d="M1319.2,596.8 L1321,594.5 L1335,597 L1350,603" fill="none" stroke="#000" stroke-width="1.8"/>
<path d="M1306.7,800 L1307.2,799.8 L1307.9,799.6 L1308.7,799.2 L1309.6,798.8 L1310.3,798.1 L1310.8,797 L1311,795.5 L1311.1,793.7 L1311,791.6 L1310.9,789.4 L1310.8,787.2 L1310.8,785 L1310.8,782.9 L1310.8,780.7 L1310.9,778.4 L1311,776.2 L1311.2,774.1 L1311.5,772 L1312,770.1 L1312.5,768.4 L1313.1,766.8 L1313.9,765.1 L1314.8,763.2 L1316,761 L1317.4,758.4 L1319,755.5 L1320.8,752.3 L1322.7,749.2 L1324.7,746.2 L1326.7,743.4 L1328.7,740.9 L1330.7,738.5 L1332.8,736.2 L1335,734.1 L1337.4,732 L1340,730 L1342.9,728.1 L1346,726.2 L1349.4,724.4 L1352.8,722.8 L1356.4,721.3 L1360,720 L1363.7,718.9 L1367.7,717.9 L1371.7,717.1 L1375.8,716.5 L1379.7,716.1 L1383.4,715.9 L1386.9,715.9 L1390.3,716.2 L1393.6,716.6 L1396.8,717.2 L1399.9,718 L1403,719 L1406,720.1 L1408.9,721.2 L1411.8,722.5 L1414.6,724.1 L1417.3,726.1 L1420,728.4 L1422.7,731.3 L1425.4,734.8 L1428,738.6 L1430.5,742.6 L1432.9,746.4 L1435,750 L1436.9,753.3 L1438.7,756.5 L1440.3,759.6 L1441.7,762.6 L1442.9,765.6 L1444,768.4 L1444.9,771 L1445.6,773.3 L1446.1,775.5 L1446.5,777.8 L1446.7,780.4 L1446.8,783.4 L1446.8,787 L1446.6,791 L1446.3,795.3 L1445.8,799.6 L1445.2,803.9 L1444.3,808 L1443.2,811.9 L1441.9,815.8 L1440.4,819.6 L1438.8,823.3 L1437,826.8 L1435,830 L1432.9,833 L1430.7,835.7 L1428.3,838.3 L1425.7,840.7 L1422.9,842.9 L1420,845 L1416.7,847 L1413,848.8 L1409.2,850.5 L1405.4,852 L1401.7,853.3 L1398.4,854.3 L1395.6,855.1 L1393.2,855.7 L1391,856.1 L1388.8,856.3 L1386.3,856.3 L1383.4,856 L1379.9,855.4 L1375.9,854.6 L1371.7,853.5 L1367.5,852.3 L1363.5,851.1 L1360,850 L1357,849 L1354.3,848.1 L1351.8,847.1 L1349.5,846.1 L1347.2,845.1 L1345,844 L1342.8,842.9 L1340.7,841.8 L1338.8,840.6 L1336.8,839.3 L1334.9,837.8 L1333,836 L1331,833.6 L1328.9,830.7 L1326.8,827.5 L1324.8,824.4 L1323.2,821.8 L1322,820" fill="none" stroke="#000" stroke-width="1.8"/>
<ellipse cx="1358.4" cy="793.4" rx="39.2" ry="54.2" fill="none" stroke="#000" stroke-width="1.8"/>
<path d="M1326.7,851.5 L1330,847.6 L1350,847.6" fill="none" stroke="#000" stroke-width="1.8"/>
<path d="M1299.2,1004.3 L1299.8,1004.4 L1300.7,1004.6 L1301.7,1004.7 L1302.8,1004.8 L1304,1004.8 L1305,1004.5 L1306,1003.9 L1307.2,1003.1 L1308.3,1002.2 L1309.4,1001.2 L1310.3,1000.2 L1310.9,999.3 L1311.2,998.7 L1311.3,998.3 L1311.3,997.9 L1311.1,997.4 L1311,996.5 L1310.9,995.1 L1310.8,993 L1310.7,990.3 L1310.5,987.3 L1310.5,984.2 L1310.6,981.1 L1310.9,978.4 L1311.4,976.1 L1311.9,974.1 L1312.7,972.1 L1313.6,970.1 L1314.9,967.8 L1316.7,965 L1319,961.6 L1321.7,957.7 L1324.9,953.5 L1328.2,949.2 L1331.6,945.2 L1335,941.7 L1338.4,938.6 L1342,935.7 L1345.7,933 L1349.5,930.5 L1353.1,928.4 L1356.7,926.7 L1360.2,925.4 L1363.6,924.6 L1367,924.1 L1370.3,923.8 L1373.6,923.6 L1376.7,923.4 L1379.6,923.1 L1382.1,922.8 L1384.6,922.6 L1387.2,922.7 L1390.1,923.2 L1393.4,924.2 L1397.4,925.9 L1402,928 L1406.9,930.6 L1411.7,933.5 L1416.2,936.7 L1420.1,940 L1423.4,943.6 L1426.4,947.5 L1429,951.6 L1431.3,955.9 L1433.4,960.4 L1435.1,965 L1436.5,969.8 L1437.5,974.8 L1438.3,980 L1438.8,985.3 L1439.1,990.3 L1439.3,995.1 L1439.4,999.5 L1439.4,1003.6 L1439.1,1007.5 L1438.7,1011.5 L1437.9,1015.6 L1436.8,1020.1 L1435.2,1025.2 L1433.3,1030.7 L1431,1036.5 L1428.5,1042.1 L1425.9,1047.3 L1423.4,1051.8 L1420.8,1055.5 L1418.1,1058.7 L1415.3,1061.4 L1412.5,1063.9 L1409.6,1066.2 L1406.8,1068.5 L1404,1070.8 L1401.1,1073 L1398.1,1075 L1395.3,1076.9 L1392.6,1078.6 L1390.1,1080.2 L1387.7,1081.6 L1385.4,1082.8 L1383.3,1083.9 L1381.3,1084.8 L1379.7,1085.8 L1378.4,1086.8 L1377.6,1087.9 L1377.3,1089 L1377.3,1090.2 L1377.4,1091.2 L1377.6,1092.1 L1377.6,1092.7" fill="none" stroke="#000" stroke-width="1.8"/></svg>
</body></html>
